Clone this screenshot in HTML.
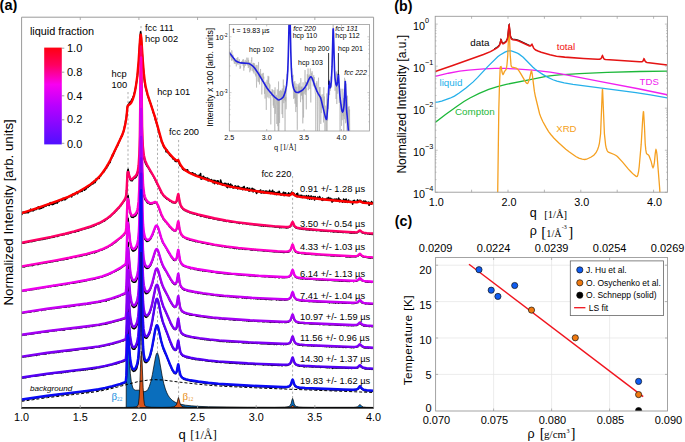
<!DOCTYPE html>
<html><head><meta charset="utf-8"><style>
html,body{margin:0;padding:0;background:#fff;width:685px;height:442px;overflow:hidden}
svg{display:block}
text{font-family:"Liberation Sans",sans-serif}
</style></head><body>
<svg width="685" height="442" viewBox="0 0 685 442">
<text x="-0.4" y="10.4" font-size="14.5" font-weight="bold">(a)</text>
<g id="pa">
<line x1="128.0" y1="92" x2="128.0" y2="406" stroke="#777" stroke-width="0.6" stroke-dasharray="2.2,2.2"/>
<line x1="141.0" y1="26" x2="141.0" y2="406" stroke="#777" stroke-width="0.6" stroke-dasharray="2.2,2.2"/>
<line x1="157.5" y1="100" x2="157.5" y2="406" stroke="#777" stroke-width="0.6" stroke-dasharray="2.2,2.2"/>
<line x1="178.6" y1="140" x2="178.6" y2="406" stroke="#777" stroke-width="0.6" stroke-dasharray="2.2,2.2"/>
<line x1="292.6" y1="176" x2="292.6" y2="406" stroke="#777" stroke-width="0.6" stroke-dasharray="2.2,2.2"/>
<path d="M126.2 407.5L126.35 333.86L127.6 230.83L128.6 318.83L129.1 346.52L129.6 361.53L130.35 373.7L131.35 382.02L132.6 387.11L133.35 388.7L134.35 389.81L135.6 390.25L139.6 390.13L143.6 391.46L144.85 391.61L146.35 391.09L147.85 389.45L149.35 386.36L150.85 381.51L152.35 374.68L155.6 356.66L156.35 354.03L157.1 352.94L157.35 352.98L157.85 353.63L158.85 357.04L162.1 375.58L163.85 383.8L165.35 389L166.85 392.85L168.1 395.29L169.35 397.2L170.85 398.98L172.35 400.35L174.1 401.58L176.1 402.64L180.85 404.26L185.6 405.19L191.35 405.86L198.85 406.37L208.6 406.74L247.35 407.24L274.6 407.3L284.6 407.14L288.1 406.68L289.35 406.13L290.1 405.46L291.1 403.52L292.1 399.54L292.6 398.38L293.1 399.54L294.1 403.52L294.85 405.13L295.6 405.96L296.35 406.42L298.85 407.02L303.1 407.26L311.85 407.37L353.6 407.3L356.1 407.1L357.6 406.68L358.6 405.94L359.6 404.67L360.1 404.46L361.85 406.35L363.35 407L366.35 407.31L373.35 407.42L373.5 407.5 Z" fill="#0a6ebd" stroke="#000" stroke-width="0.7"/>
<path d="M21.6 407.5L21.6 407.5L123.6 407.42L132.85 407.18L135.35 406.9L136.85 406.5L137.85 405.62L138.35 404.2L139.1 398.14L139.6 389.49L140.85 357.31L141.35 351.54L141.6 352.3L141.85 355.46L143.1 387.24L143.85 399.92L144.35 403.73L144.85 405.42L145.6 406.31L146.85 406.77L151.35 407.24L161.35 407.38L170.1 407.24L173.85 406.75L175.35 406.02L176.35 404.8L177.1 402.85L178.1 398.35L178.35 397.61L178.6 397.54L180.1 403.51L181.1 405.48L181.85 406.18L183.1 406.75L187.1 407.26L206.35 407.47L285.35 407.44L288.35 407.33L290.1 407.07L291.1 406.64L292.6 405.5L294.85 407L296.35 407.28L298.85 407.41L373.35 407.5L373.5 407.5 Z" fill="#d9541a" stroke="#000" stroke-width="0.7"/>
<path d="M21.6 401.36L47.6 397.61L87.6 392.92L98.6 391.37L109.6 389.07L137.6 381.72L147.6 380.15L154.6 379.63L162.6 380L179.6 382.13L199.6 384.36L212.6 385.56L223.6 386.31L262.6 388.18L372.6 392.47" fill="none" stroke="#000" stroke-width="1" stroke-dasharray="3,2"/>
<path d="M21.6 214.87L23.1 211.99L24.1 213.04L25.1 211.96L25.6 212.73L26.1 212.86L26.6 212.15L27.1 212.31L27.6 211.71L28.1 212.83L28.6 211.36L29.1 210.82L29.6 211.72L30.1 211.09L30.6 209.17L31.6 210.71L32.1 210.12L32.6 210.24L33.1 210.9L33.6 210.01L34.1 209.61L34.6 209.92L35.1 209.27L36.1 209.48L36.6 207.92L37.1 208.15L37.6 207.34L38.1 208.82L38.6 206.93L39.1 208.25L39.6 208.84L40.1 207.93L40.6 208.39L41.1 207.15L41.6 208.21L43.1 206.21L43.6 207.33L44.1 205.98L44.6 206.3L45.1 205.24L46.1 206.1L46.6 205.28L47.1 205.15L47.6 204.64L48.6 204.9L49.1 205.49L49.6 203.19L50.1 203.87L50.6 202.7L51.1 204.53L51.6 203.12L52.1 203.56L52.6 204.59L53.1 203.64L53.6 204.06L54.1 203.65L54.6 202.53L55.1 203.37L55.6 202.1L56.1 202.4L56.6 201.37L57.1 203.22L57.6 201.23L58.1 200.57L58.6 201.7L60.1 200.36L61.1 199.76L61.6 200.57L62.1 199.78L62.6 200.06L63.1 198.22L64.1 199.58L65.1 199.65L65.6 198.39L66.1 197.94L66.6 198.68L67.1 197.84L67.6 197.75L68.1 197.08L68.6 197.21L69.1 196.6L70.1 196.13L70.6 196.43L71.1 196.21L71.6 196.86L72.6 194.46L73.1 194.13L73.6 194.94L74.1 194.66L74.6 194.67L75.1 194.1L75.6 193.87L76.6 192.15L77.1 192.45L77.6 193.66L78.6 191.73L80.6 191.61L81.1 190.26L81.6 190.61L82.1 191.41L82.6 189.46L83.1 189.73L83.6 189.35L84.1 189.46L84.6 190.21L85.1 188.97L85.6 188.58L86.1 188.94L86.6 187.58L87.1 186.79L87.6 187.49L88.1 187.28L88.6 186.23L89.1 186.23L89.6 185.96L90.1 185.31L90.6 185.25L91.1 184.33L91.6 184L92.1 182.61L92.6 184.04L93.1 183.83L94.1 181.2L94.6 182.8L95.1 182.38L95.6 181.43L96.1 179.04L96.6 180.04L97.1 178.65L97.6 178.58L98.6 177.68L99.1 178.36L99.6 176.24L100.1 176.35L100.6 175.96L102.1 173.16L102.6 172.98L103.1 172.01L104.1 171.71L105.6 168.4L106.1 168.55L106.6 168.16L107.1 165.74L107.6 164.96L108.1 165.63L108.6 163.86L109.1 163.53L109.6 162.47L110.1 162.53L110.6 159.59L111.6 158.16L112.6 154.44L113.1 155.84L113.6 153.44L114.1 153.13L114.6 150.97L115.1 150.72L115.6 149.07L116.1 148.57L116.6 146.89L117.1 146.6L118.1 144.68L118.6 142.78L119.6 140.9L120.6 138.2L121.1 137.78L121.6 135.74L122.1 136.18L122.6 133.53L123.1 133.34L124.1 129.28L124.6 126.43L125.1 124.75L125.6 120.79L126.1 119.54L127.6 105.52L128.1 105.21L128.6 103.98L129.1 104.14L129.6 102.32L130.1 102.03L130.6 102.26L132.1 98.73L132.6 98.92L133.1 96.83L133.6 96.11L135.6 88.01L137.1 78.72L138.6 64.17L140.1 36.59L140.6 31.72L141.1 34.77L142.6 59.89L143.6 72.37L144.6 82.29L145.6 87.93L146.1 88.71L146.6 91.54L147.6 95.15L149.6 101.18L151.1 104.8L152.1 108.48L152.6 109.5L153.1 112.42L154.1 114.14L155.6 120.44L156.1 121.45L156.6 123.64L157.1 124.49L158.1 129.15L159.1 132.09L160.1 137L161.1 139.17L161.6 142.41L162.1 141.54L163.6 146.66L164.6 148.3L165.1 148.43L165.6 149.26L166.1 151.74L166.6 149.55L167.1 151.71L167.6 152.75L168.1 152.25L168.6 152.69L169.6 154.98L171.1 156.43L172.1 156.86L172.6 158.27L173.1 159.02L173.6 158.68L174.1 159.46L174.6 158.72L175.1 161.2L175.6 160.89L176.1 161.64L176.6 161.09L177.1 161L177.6 161.31L178.1 160.77L178.6 161.8L179.1 162.06L179.6 164.6L180.1 165.59L180.6 165.31L181.6 166.82L182.1 167.06L182.6 169.08L183.1 169.07L183.6 169.87L184.1 169.43L184.6 170.04L185.1 169.48L185.6 169.74L186.1 170.81L187.1 169.97L187.6 169.88L188.1 171.88L188.6 172.28L189.1 172.26L190.6 173.27L191.1 173.06L191.6 173.98L192.1 173.07L192.6 172.77L193.1 174.38L193.6 173.72L194.1 174.49L194.6 174.84L195.1 173.92L196.1 175.54L196.6 175.26L197.6 175.98L198.1 175.68L198.6 176.16L199.1 175.25L199.6 176.64L200.1 174.71L200.6 173.59L201.1 179.25L201.6 177.38L202.1 178.79L203.1 176.47L203.6 176.23L204.1 177.92L204.6 178.63L205.1 177.96L205.6 177.87L206.1 179.5L206.6 179.22L207.1 178L207.6 177.96L208.1 180.9L208.6 179.37L209.1 179.05L210.6 180.44L211.1 180.25L211.6 179.57L212.1 180.74L212.6 181.36L213.1 182.82L213.6 180.49L214.1 180.28L214.6 183.7L215.1 180.52L215.6 181.56L216.6 182.47L217.1 180.84L217.6 183.83L218.1 180.87L218.6 182.73L219.6 183.21L220.1 183.09L220.6 179.99L221.1 181.62L221.6 184.35L222.1 183.29L222.6 185.12L223.1 184.99L224.1 183.46L225.1 183.35L225.6 183.61L226.1 183.52L226.6 186.92L227.1 186.83L227.6 187.54L228.1 183.55L228.6 185.26L229.1 184.8L229.6 185.45L230.1 187.39L230.6 184.04L231.1 185.36L231.6 185.97L232.1 185.36L233.1 188.07L234.1 187.08L234.6 187.53L235.1 185.76L235.6 187.54L236.1 186.43L236.6 187.37L237.1 187.32L237.6 188.85L238.1 185.94L238.6 187.6L239.1 187.78L239.6 187.15L240.1 188.6L240.6 188.62L241.1 188.15L241.6 188.93L242.1 187.47L242.6 189.62L243.1 187.48L243.6 187.25L244.1 186.49L244.6 189.28L245.1 188.5L245.6 189.59L246.1 188.89L246.6 189.16L247.1 187.82L247.6 187.73L248.1 189.76L248.6 189.79L249.1 191.15L249.6 188.22L250.1 190.53L250.6 190.21L251.1 190.68L252.1 188.22L252.6 189.24L253.1 191.97L253.6 189.05L254.1 190.76L254.6 189.65L255.1 190.47L255.6 190.58L256.1 192.41L256.6 193.45L257.6 191.13L258.1 190.97L258.6 191.62L259.1 190.87L259.6 191.83L260.6 190.01L261.1 193.02L261.6 191.47L262.1 192.87L262.6 191.27L263.1 190.75L263.6 192.67L264.1 193.1L265.1 191.13L265.6 192.62L266.1 190.96L266.6 191.84L267.1 191.37L267.6 193.28L268.1 193.23L268.6 191.93L269.1 192.41L269.6 190.23L270.6 193.51L271.1 192.93L271.6 191.53L272.1 191.78L272.6 190.26L273.1 193.47L274.1 191.8L275.1 194.54L275.6 192.7L276.1 192.58L276.6 194.59L277.6 192.23L278.1 194.01L278.6 194.01L279.1 191.21L280.1 194.04L280.6 193.86L281.1 195.12L282.1 193.84L282.6 193.91L283.6 192.28L284.1 195.66L284.6 193.15L285.1 195.17L285.6 192.84L286.1 194.58L287.1 194.81L287.6 194.22L288.1 195.41L288.6 192.8L289.1 195.72L289.6 195.6L290.1 193.51L290.6 194.04L291.1 193.7L291.6 192.13L292.1 193.87L293.1 193.13L293.6 193L294.1 193.54L294.6 195.3L295.6 195.18L296.1 196.28L296.6 193.72L297.1 197L297.6 193.35L298.1 195.76L298.6 196.34L299.6 196.66L300.1 195.17L300.6 197.2L301.6 195.28L302.1 197.39L302.6 197.43L303.1 195.96L303.6 196.72L304.1 196.65L304.6 196.05L305.1 196.84L305.6 196.55L306.1 196.95L306.6 195.64L307.1 197.95L307.6 198.55L308.1 197.62L308.6 195.66L309.6 199.3L310.1 196.78L310.6 196.64L311.1 195.87L311.6 199.08L312.1 198.05L312.6 198.46L313.1 196.58L313.6 197.87L314.1 197.63L314.6 199.97L315.1 196.44L315.6 198.34L316.1 198.21L317.1 198.9L317.6 197.18L319.1 198.47L319.6 196.58L320.6 198.51L322.1 200.37L322.6 198.11L323.1 199.87L323.6 199.83L324.6 199.24L325.1 199.62L325.6 199.29L326.1 199.61L326.6 199.62L327.1 198.16L327.6 198.96L328.6 197.49L329.1 199.23L329.6 198.65L330.1 199.84L330.6 198.23L331.1 198.71L332.1 202.09L332.6 199.21L333.1 199.78L333.6 200.92L334.1 199.33L334.6 199.43L335.1 199.14L335.6 199.81L336.1 200.99L336.6 198.97L337.1 200.06L337.6 200.53L338.1 199.95L338.6 198.12L339.1 199.2L339.6 201.81L340.1 199.74L341.1 201.01L341.6 200.59L342.6 202.21L343.1 201.57L343.6 199.06L344.1 199.9L344.6 201.89L345.1 199.77L345.6 202.15L346.1 199.14L347.1 201.91L347.6 202.29L348.1 201.54L348.6 199.98L349.1 201.71L350.1 202.31L350.6 201.33L351.1 202.12L352.1 201.23L352.6 204.17L353.1 201.26L353.6 200.68L354.1 201.28L354.6 200.43L355.1 202.31L355.6 202.26L356.1 201.86L356.6 202.12L357.6 199.91L358.1 201.77L358.6 200.98L359.1 200.92L359.6 200.3L360.1 200.79L360.6 200.33L361.1 201.91L362.1 201.47L362.6 202.81L363.1 202.79L363.6 201.11L364.1 201.72L364.6 201.35L365.1 202.22L365.6 201.19L366.1 202.73L366.6 202.31L367.1 202.37L367.6 203.12L368.1 202.91L368.6 202.17L369.1 205.26L369.6 202.87L370.1 202.51L370.6 203.07L371.1 204.25L371.6 201.54L372.1 202.79L372.6 203.03L373.1 202.06" fill="none" stroke="#000" stroke-width="1.6" stroke-linejoin="round"/>
<path d="M21.6 243.09L22.6 243.26L23.1 242.86L23.6 243.23L24.1 242.88L25.6 242.38L26.6 242.54L27.1 242.09L27.6 242.29L28.6 242.31L29.1 241.62L29.6 241.43L30.1 241.47L30.6 241.21L31.1 241.69L31.6 241.48L32.1 241.59L33.6 241.07L34.1 240.68L34.6 241.03L35.6 240.47L36.6 240.49L37.1 240.08L37.6 240.15L38.1 239.75L39.1 239.9L40.1 239.5L40.6 239.67L41.6 239.49L42.6 239.57L43.1 239.16L44.6 238.66L45.1 238.88L45.6 238.43L46.1 238.61L46.6 238.28L47.6 238.46L48.1 238L49.6 238.02L50.1 237.59L51.1 237.35L53.6 237.09L54.1 236.49L54.6 236.95L55.6 236.2L56.1 236.06L56.6 236.11L57.1 236.52L58.1 235.71L58.6 235.87L59.1 235.57L60.6 235.31L62.1 235.29L62.6 234.76L63.6 234.45L64.1 234.78L65.6 233.79L66.1 234.01L66.6 233.76L68.6 233.6L69.6 232.72L70.1 233.24L70.6 232.32L71.1 232.62L71.6 232.6L72.6 231.97L73.1 231.97L73.6 231.69L74.1 232.03L75.1 231.69L75.6 231.91L76.6 231.2L77.6 231.04L78.1 231.23L80.1 230.04L81.1 230.04L81.6 229.63L82.6 229.52L83.1 229.26L83.6 228.68L84.1 228.99L84.6 228.92L85.1 228.58L85.6 228.68L86.1 228.52L87.6 227.84L88.1 227.23L88.6 227.86L89.1 227.29L90.1 227.39L90.6 226.72L91.1 226.99L92.6 226.17L93.1 226.4L93.6 225.68L94.1 225.83L95.1 224.99L95.6 225.29L97.1 224L98.6 223.65L99.1 223.78L99.6 223.01L100.1 223.06L100.6 222.68L101.1 222.62L103.6 221.13L104.1 221.31L104.6 220.62L105.1 220.48L105.6 219.73L106.1 219.66L106.6 218.9L107.1 218.99L107.6 218.25L108.1 218.31L109.1 217.14L109.6 217.08L110.6 216.26L112.6 214.21L114.6 212.59L115.1 211.61L115.6 211.41L116.1 210.48L116.6 210.57L117.1 209.4L117.6 209.33L118.1 208.31L118.6 207.76L119.1 207.98L119.6 206.7L120.1 206.51L120.6 205.94L123.6 201.57L124.1 201.37L125.6 198.33L126.1 196.7L126.6 193.24L127.6 171.06L128.1 169.24L129.1 175.09L130.1 179.63L130.6 180.4L132.1 180.82L133.6 178.63L134.1 178.43L134.6 177.91L135.1 177.9L135.6 177.24L136.1 177.26L137.6 174.09L138.1 172.33L138.6 169.1L139.1 164.32L139.6 154.56L140.1 133.21L141.1 48.65L141.6 103.18L142.1 136.2L142.6 148.17L143.1 154.18L144.1 159.14L145.6 163.53L146.6 165.43L148.6 168.22L150.1 171.22L151.6 173.19L153.6 176.6L157.1 184L158.1 185.6L160.1 190.18L160.6 190.8L161.1 192.84L162.1 193.34L163.1 195.53L163.6 195.65L164.1 196.46L165.1 197.02L165.6 198L166.6 198.49L167.1 199.24L168.1 199.33L170.1 201.11L170.6 201.03L172.1 202.53L173.6 202.82L174.1 202.75L174.6 203.07L175.1 203.07L176.1 202.4L176.6 201.64L178.1 194.73L178.6 195.32L179.6 201.81L180.6 205.62L181.1 206.68L183.1 209.39L183.6 209.49L184.6 210.47L185.1 210.35L185.6 210.55L186.6 211.4L187.6 211.51L188.1 211.95L188.6 211.97L189.6 212.72L190.1 212.21L192.1 213.47L193.1 213.69L193.6 213.48L194.1 213.97L195.1 214.31L196.1 213.99L196.6 214.68L197.1 214.89L198.6 215.11L199.1 215.4L200.1 215.37L201.1 216.3L201.6 215.74L202.1 215.75L202.6 216.24L203.1 216.14L204.1 216.78L204.6 216.51L205.1 217.07L205.6 216.87L206.1 216.93L206.6 217.38L207.1 216.83L207.6 216.72L208.1 217.5L208.6 217.89L209.1 217.67L210.6 218.21L211.1 218.01L211.6 218.1L213.1 218.75L213.6 218.41L214.1 218.99L214.6 218.64L216.1 218.93L217.1 219.58L218.6 219.64L219.1 219.94L220.6 219.86L221.1 220.22L221.6 220.06L222.1 220.46L223.1 220.24L223.6 220.88L224.1 220.57L225.1 221.13L225.6 220.94L226.6 221.45L227.1 221.09L228.1 221.2L229.6 221.82L230.1 221.62L230.6 221.92L231.1 221.8L231.6 222.23L232.1 222.05L233.1 222.32L234.1 222.09L234.6 222.38L235.1 221.97L236.6 222.67L237.1 222.3L237.6 222.72L238.1 222.71L239.6 223.43L240.1 222.99L240.6 223.11L241.1 222.87L241.6 222.9L242.6 223.7L243.1 223.31L243.6 223.19L244.1 223.51L245.6 223.55L246.6 224.01L247.1 223.77L247.6 223.99L248.1 223.94L249.1 224.39L250.1 224.21L250.6 224.52L251.1 224.12L251.6 224.38L252.6 224.38L253.1 224.67L254.1 224.47L254.6 225.01L255.6 224.76L256.6 225.11L257.6 224.84L258.1 225.47L258.6 225.1L259.1 225.57L260.1 225.71L260.6 225.37L261.6 225.96L262.1 225.81L262.6 225.26L263.6 226.08L264.1 225.72L264.6 225.82L265.1 225.43L265.6 226.15L266.1 225.79L266.6 226.02L267.1 225.9L268.1 226.43L268.6 225.93L269.6 226.55L271.1 226.42L271.6 226.21L272.1 226.56L272.6 226.41L273.1 226.68L274.1 226.15L274.6 226.87L278.6 226.81L279.1 226.98L279.6 227.73L280.1 227.15L280.6 227.51L281.6 227.59L282.6 227.34L283.6 227.58L284.6 227.43L285.6 227.74L286.1 227.27L286.6 227.96L287.6 227.31L288.1 227.62L288.6 227.45L289.1 226.9L289.6 227.11L290.6 226.44L291.1 225.14L292.6 222.38L293.1 222.8L294.1 226.14L295.1 227.04L295.6 227.24L296.1 227.98L296.6 228.19L297.1 228L297.6 228.56L298.6 228.29L299.6 228.75L300.1 228.47L300.6 228.51L301.1 229.1L302.6 229.08L303.1 229.51L303.6 229.29L304.6 229.27L305.1 229.53L305.6 229.42L306.1 229.7L307.1 229.48L308.1 229.84L308.6 229.65L309.6 230.12L310.1 229.54L310.6 229.4L311.1 229.83L311.6 229.58L312.1 230.02L312.6 229.89L313.1 230.41L313.6 229.76L314.1 230.02L315.1 230.13L315.6 229.92L316.1 230.59L316.6 230.21L317.1 230.6L317.6 229.99L318.1 230.3L318.6 230.23L319.1 230.58L319.6 230.26L320.6 230.87L321.6 231.03L322.1 230.56L323.1 230.97L323.6 230.67L324.1 231.07L324.6 230.78L325.1 230.77L325.6 231.23L326.1 230.67L327.1 231.25L327.6 231.19L328.1 231.41L328.6 230.85L329.1 231.16L329.6 230.98L330.1 231.1L330.6 231.57L331.6 231.27L333.6 231.89L334.6 231.61L335.1 231.82L336.1 231.63L337.6 231.95L338.1 232.28L338.6 231.91L339.1 232.04L340.1 231.86L340.6 232.22L341.1 231.89L343.1 232.59L344.6 232L345.1 232.45L346.1 232.08L346.6 232.54L347.1 232.2L348.6 232.42L349.1 232.3L350.1 233L350.6 232.85L351.1 233.1L351.6 232.69L352.6 232.95L353.1 232.69L354.1 233.1L354.6 232.75L355.6 232.75L356.1 232.97L356.6 232.58L357.1 232.81L358.1 231.81L358.6 231.55L359.1 231.59L359.6 231.02L360.1 230.97L360.6 231.48L361.1 231.57L362.1 232.86L363.1 232.84L364.1 233.42L364.6 233.28L365.1 233.84L366.6 233.26L367.6 233.94L368.6 233.53L369.1 234.08L369.6 233.63L370.1 234.28L370.6 233.98L371.6 233.86L372.1 234.41L373.1 233.96" fill="none" stroke="#000" stroke-width="1.6" stroke-linejoin="round"/>
<path d="M21.6 266.9L22.1 266.59L22.6 266.55L24.1 266.91L24.6 266.21L25.1 266.19L25.6 266.45L26.1 266.09L26.6 266.14L27.6 265.56L28.1 265.58L28.6 265.88L29.6 265.26L30.1 265.58L30.6 265.49L31.1 264.71L31.6 265.47L32.1 265.29L32.6 265.57L34.1 264.68L34.6 264.78L35.1 264.32L36.1 264.34L36.6 264.05L37.1 264.43L37.6 264.17L38.1 264.47L40.1 263.27L40.6 263.67L41.6 263.26L42.1 263.23L42.6 263.53L43.1 263.02L43.6 263.11L44.1 262.57L44.6 262.86L45.1 262.59L45.6 262.87L46.1 262.62L46.6 262.89L47.1 262.41L47.6 262.51L48.1 262.15L49.1 261.86L49.6 262.28L50.1 261.85L50.6 261.91L51.1 261.38L52.6 261.67L53.1 261.14L53.6 261.49L54.1 260.85L54.6 261.28L55.6 260.96L56.1 260.61L56.6 260.91L57.1 260.88L58.6 260.43L59.1 260.07L60.1 260.28L61.1 259.77L63.1 259.71L63.6 259.44L64.1 259.73L65.1 258.93L65.6 259.11L66.6 258.88L67.1 259.2L67.6 258.33L68.1 258.68L69.6 258L70.1 257.53L70.6 258.26L71.1 257.65L71.6 258L72.1 257.56L74.1 256.98L74.6 256.93L75.1 257.34L75.6 256.82L76.1 256.92L77.6 256.24L79.1 256.43L80.1 256.23L81.1 255.33L81.6 255.96L82.1 255.36L82.6 255.65L83.6 255.04L84.6 254.97L86.1 254.29L86.6 254.85L87.1 254.76L87.6 254.21L88.6 253.66L89.1 253.92L89.6 253.88L90.1 253.35L90.6 253.54L91.6 253.03L92.1 253.1L93.1 252.35L94.1 252.45L94.6 252.89L95.6 251.62L96.1 252.21L96.6 251.63L97.6 251.54L98.6 251.18L99.1 250.68L100.1 250.29L101.1 250.07L101.6 250.2L102.6 249.66L103.1 249.11L104.1 249.03L105.1 248.34L106.6 247.85L107.1 247.33L108.1 246.94L108.6 246.25L109.6 246.05L111.1 245.06L111.6 245.04L112.1 244.74L113.6 243.37L114.6 242.77L115.1 242.14L115.6 242.41L116.1 241.57L120.1 238.21L120.6 238.24L121.6 236.97L122.1 236.74L123.6 235.17L124.1 234.96L124.6 233.86L125.6 232.76L126.1 231.46L126.6 226.33L127.6 197.31L128.1 195.58L129.6 209.4L130.1 212.6L131.1 216.42L131.6 217.07L132.1 216.86L132.6 217.32L133.1 217.41L134.1 216.39L134.6 216.44L135.1 216.03L135.6 215.96L137.1 213.04L138.1 209.57L139.1 200.13L139.6 188.38L140.1 162.93L141.1 59.66L141.6 127.67L142.1 167.89L142.6 183.62L143.1 190.62L143.6 194.18L144.1 196.74L145.1 199.64L145.6 200.04L147.6 203.05L148.6 203.03L149.6 203.93L150.6 204.2L151.6 203.73L152.1 203.86L152.6 203.75L153.1 203.21L154.1 203.21L155.1 202.46L155.6 202.53L157.1 204L159.1 208.62L161.6 215.91L162.1 216.39L163.6 219.58L164.6 220.28L165.1 221.56L165.6 221.55L166.1 221.95L167.6 224.3L168.1 224.49L168.6 225.03L169.6 226.91L171.1 228.14L172.1 229.67L173.1 229.67L173.6 230.69L174.6 230.78L175.1 231.03L175.6 230.96L176.1 230.5L177.1 227.71L178.1 221.93L178.6 222.62L179.6 229.43L180.6 233.6L181.6 235.27L182.1 235.62L183.1 237.1L183.6 237.1L186.1 238.66L187.1 239.09L187.6 238.9L188.1 239.52L189.1 239.54L189.6 240.05L190.1 239.64L190.6 240.21L191.1 239.96L192.1 240.7L192.6 240.6L193.6 240.81L194.6 241.25L195.1 241.02L195.6 241.63L196.1 241.1L196.6 241.43L198.1 241.92L198.6 241.74L201.6 242.76L202.6 242.83L203.1 243.29L204.1 243.13L205.1 243.27L205.6 242.83L206.1 243.76L206.6 243.49L207.6 244.2L208.1 243.6L208.6 244.23L210.1 243.85L210.6 244.46L211.6 244.22L212.1 244.83L212.6 244.54L213.1 245.03L214.1 244.97L215.1 245.37L215.6 245.18L216.1 245.49L217.1 245.52L217.6 245.35L218.1 245.81L219.6 245.77L220.1 246.18L220.6 246.11L221.6 246.55L222.1 246.23L222.6 246.63L223.1 246.32L224.1 246.27L224.6 246.91L225.1 246.44L226.1 247.24L226.6 246.69L227.1 247.19L227.6 246.89L228.6 247.41L229.1 247.45L229.6 247.06L230.1 247.75L231.6 247.3L232.1 247.59L232.6 247.23L233.1 247.94L233.6 248.11L234.1 247.91L234.6 248.52L235.1 247.79L235.6 248.25L236.1 248.22L236.6 248.62L237.6 248.05L238.1 248.57L238.6 248.14L239.1 248.84L240.1 248.43L240.6 248.81L241.1 248.64L242.1 248.7L242.6 249.08L243.1 248.78L244.1 248.81L244.6 248.95L245.1 249.4L245.6 249.32L246.1 248.89L247.1 249.45L247.6 249.07L249.1 249.53L250.1 249.51L251.1 249.92L251.6 249.39L252.1 249.96L252.6 250.08L253.6 249.58L254.6 249.95L255.1 249.48L255.6 250.14L256.6 249.73L257.1 250.38L257.6 250.11L258.1 250.49L259.1 250.28L260.6 250.35L261.1 250.69L261.6 250.37L262.1 250.41L263.6 250.99L264.1 250.68L265.1 250.96L265.6 250.58L266.1 250.86L267.1 250.68L267.6 251.2L268.1 251.07L270.1 251.35L270.6 251.19L271.1 251.54L271.6 251.25L272.1 251.57L273.1 251.63L273.6 251.41L275.1 251.86L276.1 251.38L276.6 251.83L277.6 251.62L278.1 252.03L279.6 251.91L280.6 252.1L281.1 251.98L281.6 252.18L282.1 251.91L282.6 252.01L283.1 252.38L283.6 252.12L284.1 252.55L285.1 251.9L286.1 252.22L287.1 251.88L287.6 252.27L288.6 252L289.6 251.36L291.1 249.3L292.1 245.41L292.6 245L294.1 249.45L295.6 252.09L296.1 252.33L296.6 252.3L298.6 253.3L299.1 253.07L300.1 253.31L301.1 253.22L302.1 253.7L302.6 253.37L303.1 253.38L304.1 253.78L304.6 253.47L305.1 254.2L305.6 253.64L306.1 254.11L306.6 253.67L308.1 254.27L308.6 254.04L309.6 254.28L310.6 254.16L311.6 254.46L312.1 254.28L312.6 254.47L313.1 254.22L313.6 254.4L314.6 254.28L315.1 254.69L315.6 254.6L316.1 254.88L317.1 254.43L317.6 254.38L318.1 254.77L318.6 254.82L320.1 254.53L320.6 254.95L322.1 254.71L323.6 255.05L324.6 254.98L325.1 255.39L325.6 255L326.6 255.38L327.6 255.37L328.1 255.61L329.1 255.28L330.1 255.58L330.6 255.45L331.1 255.9L331.6 255.3L332.6 255.84L333.6 255.8L334.1 256.05L334.6 255.74L336.1 255.75L337.1 256.05L339.1 255.92L339.6 256.18L340.6 256.15L341.1 255.77L343.6 256.3L345.6 256.29L346.1 256.95L346.6 256.45L348.1 256.96L349.1 256.24L349.6 256.98L350.1 256.43L350.6 256.93L352.6 256.54L353.1 256.77L354.6 256.61L355.1 256.87L355.6 256.35L356.1 256.31L356.6 256.61L357.1 256.21L358.1 256.05L359.1 254.75L360.1 254.25L360.6 254.51L361.1 255.42L362.6 256.73L363.1 256.41L363.6 256.99L364.6 256.78L365.6 257.25L366.1 257.08L366.6 257.48L367.1 257.5L367.6 257.11L368.1 257.85L368.6 257.46L369.6 257.98L370.1 257.8L370.6 258.08L371.6 257.5L372.1 257.92L373.1 257.66" fill="none" stroke="#000" stroke-width="1.6" stroke-linejoin="round"/>
<path d="M21.6 291.23L22.6 291.3L23.6 290.66L25.1 290.49L26.1 290.86L26.6 290.11L27.1 289.95L27.6 290.2L29.1 289.91L29.6 290.14L30.6 289.65L32.1 289.61L32.6 289.21L33.1 289.48L33.6 288.78L34.1 289.35L34.6 288.83L36.6 288.87L37.6 288.4L38.1 288.67L38.6 288.21L39.1 288.38L39.6 288.24L40.1 288.43L40.6 288.04L42.6 287.68L43.1 287.3L43.6 287.71L44.1 287.39L45.6 287.38L46.1 286.84L47.6 287.04L48.1 286.56L48.6 286.91L49.6 286.37L50.1 286.39L50.6 286.74L51.1 286.34L51.6 286.53L52.1 286.08L52.6 286.28L53.1 286.1L53.6 285.49L54.6 286.23L55.1 285.86L55.6 286.14L57.1 285.28L57.6 285.78L58.6 285.09L59.1 285.29L59.6 285.04L61.6 285.18L62.1 284.5L62.6 284.66L63.1 284.08L63.6 284.57L64.6 284.37L65.1 284.62L65.6 284.26L66.1 284.37L66.6 283.75L67.6 283.93L68.1 283.34L69.6 283.81L70.1 283.27L71.1 283.28L71.6 283.02L72.1 283.13L72.6 282.69L73.6 283.27L74.6 282.66L75.6 282.78L76.6 282.21L77.1 282.39L77.6 281.95L78.6 281.75L79.1 281.66L79.6 282.08L80.6 281.23L81.1 281.71L81.6 281.21L82.1 281.19L82.6 281.52L84.1 280.95L84.6 281.17L85.6 280.49L86.6 280.73L87.6 280.15L89.1 279.99L89.6 279.64L90.1 279.66L91.6 279.17L92.6 279.57L93.1 279L94.1 279.13L94.6 278.6L95.1 278.96L95.6 278.5L96.1 278.53L97.1 278.05L97.6 278.18L98.6 277.77L99.6 277.65L100.6 277.04L101.1 277.18L102.1 276.98L103.1 276.55L103.6 276.08L104.1 276L104.6 276.27L105.6 275.33L106.6 275.46L107.6 274.52L108.6 274.62L109.1 273.97L109.6 274.23L110.1 273.8L111.6 273.19L113.1 271.91L113.6 272.07L114.1 271.6L114.6 271.81L115.6 270.67L116.1 271.01L116.6 270.27L117.6 269.82L118.1 269.91L119.6 268.78L120.1 268.77L121.1 267.63L121.6 267.67L123.6 266.05L125.1 265.25L126.1 263.12L126.6 257.16L127.6 219.71L128.1 218.34L130.1 242.61L131.1 247.61L132.1 250.21L133.1 251.19L133.6 250.83L134.1 250.89L134.6 250.22L135.1 250.31L136.6 248.22L137.6 245.51L138.6 240.22L139.1 233.62L139.6 221.95L140.1 195.65L141.1 87.59L141.6 161.56L142.1 205.7L142.6 222.71L143.1 230.93L144.1 237.07L144.6 238.65L146.6 241.22L147.1 241.48L147.6 240.98L148.6 240.93L150.6 238.98L152.1 235.7L152.6 235.09L155.1 227.64L155.6 227.24L156.1 226.27L157.1 225.97L157.6 226.66L158.1 227.89L159.1 230.96L159.6 233.2L162.6 242.28L167.1 249.71L167.6 251.04L168.1 251.59L169.1 253.55L169.6 253.74L170.1 254.53L170.6 255.97L171.1 256.79L171.6 257.15L172.6 258.79L173.1 258.87L173.6 260.13L174.1 259.67L174.6 260.5L175.1 260.46L176.1 259.66L176.6 258.53L177.1 256.36L178.1 250.91L178.6 251.01L179.6 258.5L180.6 262.51L181.1 263.14L181.6 264.35L182.6 265.15L183.1 265.9L184.1 265.88L184.6 266.49L186.1 266.81L187.1 267.42L188.1 267.47L189.6 268.1L190.1 267.89L190.6 268.71L191.1 268.3L192.6 268.53L194.1 269L194.6 269.37L196.6 269.34L197.6 269.97L198.1 269.87L198.6 270.23L199.1 269.77L199.6 269.87L200.1 270.37L200.6 270.4L201.6 269.94L202.1 270L202.6 271.04L203.6 270.53L204.1 270.81L204.6 270.5L205.1 271.24L206.1 270.99L207.6 271.18L208.1 271.5L208.6 271.3L209.1 271.5L210.1 271.48L211.1 271.71L211.6 272.23L212.1 272.31L212.6 272.2L213.1 271.76L213.6 272.26L214.6 271.98L215.1 272.33L216.1 272.42L216.6 272.82L217.1 272.73L218.1 273.01L218.6 272.61L219.6 273.17L221.1 273.25L222.1 273.07L223.1 273.52L223.6 273.14L224.1 273.75L224.6 273.36L225.6 273.81L226.6 273.55L227.1 273.87L228.1 273.92L228.6 273.72L229.1 274.14L229.6 273.82L230.1 273.97L230.6 273.74L231.1 274.13L231.6 273.98L232.1 274.17L232.6 273.94L233.1 274.24L234.1 274.08L234.6 274.34L236.1 274.36L236.6 274.69L237.6 274.8L238.1 274.5L238.6 274.88L239.1 274.64L239.6 274.93L240.6 274.62L241.6 275.23L242.1 274.88L243.1 275.02L243.6 274.81L244.1 275.34L245.1 274.98L246.6 275.53L247.1 275.3L247.6 275.51L249.1 275.62L249.6 275.42L250.1 276.02L251.1 275.62L252.1 275.63L253.1 276.03L254.1 275.46L255.1 276.32L255.6 276.08L257.6 275.88L258.1 276.42L258.6 276.13L259.1 276.28L259.6 275.86L260.1 276.31L261.6 276.39L262.6 276.23L263.1 276.62L263.6 276.28L264.6 276.74L265.1 276.53L266.1 276.63L267.1 276.23L269.1 277.04L269.6 276.82L270.1 276.98L271.6 276.87L272.6 277.16L273.6 276.85L275.1 277.48L276.1 277.17L277.1 277.26L277.6 277L278.6 277.6L279.1 277.19L279.6 277.63L280.6 276.96L281.1 277.27L281.6 277.26L282.1 277.78L282.6 277.44L283.1 277.39L283.6 277.65L285.6 277.34L286.1 277.54L287.1 277.5L287.6 277.15L288.1 277.27L289.1 277.08L290.1 275.97L290.6 275.89L292.1 271.03L292.6 270.33L293.6 272.78L294.1 274.6L294.6 275.73L295.6 277.18L296.6 277.77L297.1 277.67L298.1 277.96L298.6 278.35L299.6 278.49L300.1 278.39L300.6 278.7L301.1 278.73L301.6 278.1L302.1 278.81L302.6 278.35L303.1 278.83L304.1 278.19L305.6 279.18L306.1 278.86L306.6 278.8L307.1 279.12L308.1 278.83L309.6 279.1L310.1 278.85L310.6 279.26L313.1 279.32L313.6 279.49L314.1 279.2L315.1 279.35L315.6 279.7L316.1 279.43L316.6 279.81L317.1 279.15L317.6 279.79L318.6 279.7L319.1 279.93L319.6 279.68L320.1 279.93L321.6 279.92L322.1 280.15L322.6 279.29L323.1 280.11L324.6 279.72L325.1 280.28L325.6 279.87L326.1 279.86L327.6 280.34L328.6 280.28L329.6 279.91L330.1 280.21L330.6 280.07L332.1 280.54L332.6 280.4L334.6 280.7L335.6 280.43L336.1 280.67L336.6 280.56L337.6 280.85L338.1 280.61L338.6 280.97L339.1 280.89L339.6 281.07L340.1 280.71L340.6 280.92L341.1 280.7L341.6 281.09L344.1 280.86L345.1 280.99L345.6 281.27L346.6 281.1L347.1 281.47L347.6 281.03L349.1 281.39L350.6 280.95L352.1 281.06L353.6 281.62L354.1 281.05L355.1 281.32L355.6 281.07L356.1 281.28L357.1 280.62L357.6 280.78L358.6 279.86L359.1 279.68L359.6 278.97L360.1 278.97L360.6 278.69L361.1 280.04L361.6 279.95L362.1 280.75L365.1 281.56L365.6 281.91L366.1 281.46L366.6 281.9L367.1 281.83L367.6 282.18L368.1 281.72L368.6 282.09L369.6 281.65L370.1 282.3L371.1 282.08L371.6 282.41L372.1 282.09L373.1 282.2" fill="none" stroke="#000" stroke-width="1.6" stroke-linejoin="round"/>
<path d="M21.6 313.18L23.1 313.05L23.6 312.65L24.6 312.74L25.6 312.16L26.6 312.53L27.6 311.95L28.6 311.64L29.1 312.09L30.1 311.76L30.6 311.91L32.6 311.02L33.1 311.27L33.6 311.2L34.1 311.56L34.6 310.92L35.6 311.27L37.1 310.39L38.1 310.7L39.1 309.93L39.6 310.18L40.1 310.02L41.6 310.55L42.1 309.99L43.6 309.82L44.1 309.52L45.6 309.66L46.6 309.28L48.1 309.21L50.1 308.68L50.6 308.8L51.1 308.55L51.6 308.63L52.6 308.27L53.1 308.49L54.1 308.33L54.6 308.45L55.1 308.21L56.1 308.31L56.6 307.96L57.6 308.01L59.1 307.4L59.6 307.76L60.1 307.68L60.6 307.32L61.6 307.43L62.1 306.73L62.6 307.28L63.6 306.94L65.1 307.16L65.6 306.77L66.1 307.08L66.6 306.6L67.6 306.23L68.6 306.76L69.6 306.71L70.1 305.92L70.6 306.43L71.1 306.4L72.1 305.81L72.6 305.82L73.1 306.18L74.1 305.75L74.6 305.85L75.1 305.41L75.6 305.56L76.1 305.09L77.1 305.25L77.6 305.09L78.1 305.49L78.6 305.13L79.1 305.1L79.6 305.33L80.1 304.8L82.1 304.71L83.1 304.07L83.6 304.5L84.1 304.26L84.6 304.46L85.1 304.13L85.6 304.54L86.1 303.93L87.1 303.97L87.6 304.21L88.1 304.01L88.6 303.5L90.1 303.74L90.6 303.41L91.1 303.63L91.6 302.96L92.1 303.28L92.6 302.85L93.1 303.08L93.6 303.05L94.6 302.64L95.6 302.8L97.1 302.34L98.1 302.39L98.6 301.69L99.1 302.13L100.1 301.6L100.6 302.03L101.1 301.46L102.1 301.52L102.6 300.9L103.6 301.14L104.1 300.67L104.6 300.69L105.1 300.43L106.1 301.23L106.6 300.04L107.1 300.1L108.1 299.65L108.6 300.04L109.6 299.64L110.6 298.85L111.6 298.88L112.1 298.44L113.1 298.14L114.1 298.5L114.6 297.57L115.1 297.92L116.1 297.33L116.6 297.37L117.1 297.16L117.6 296.39L118.1 296.91L119.1 296.29L119.6 295.72L120.1 296.04L120.6 295.34L121.6 295.31L124.6 294.25L125.1 293.73L125.6 293.55L126.1 292.36L126.6 286.01L127.6 244.62L128.1 242.62L129.6 265.71L130.6 275.28L131.1 277.83L132.1 281.15L133.6 282.32L134.6 282.27L135.1 281.7L135.6 281.99L137.1 278.85L138.1 274.88L138.6 270.87L139.1 264.14L139.6 251.7L140.1 224.15L141.1 111.27L141.6 187.02L142.1 232.46L142.6 250.33L143.1 258.57L143.6 262.41L144.6 266.35L145.1 267.16L145.6 267.31L146.1 268.18L146.6 268.13L147.1 268.47L147.6 267.97L148.1 268.1L148.6 267.94L149.6 266.6L150.1 266.23L150.6 265.37L153.1 258.86L155.1 251.77L156.1 250L157.1 249.7L158.6 252.55L161.1 261.63L163.1 266.79L163.6 267.4L164.1 268.67L164.6 268.74L165.1 270.21L165.6 270.55L167.1 273.12L168.1 275.42L169.1 276.74L170.6 279.76L171.6 280.98L172.6 282.91L173.1 282.84L174.1 284.32L174.6 283.88L175.1 284.44L175.6 284.4L176.6 282.57L177.1 280.64L178.1 274.42L178.6 275.13L179.6 282.31L180.1 284.62L181.1 287.2L182.1 288.19L182.6 289.14L183.1 289.38L183.6 289.31L184.1 289.94L184.6 290.2L185.1 289.94L185.6 289.93L187.1 290.88L187.6 290.52L188.1 290.99L189.1 291.39L190.6 291.24L191.1 291.68L192.1 291.77L192.6 292.21L193.1 292.02L194.6 292.48L195.1 292.13L195.6 292.7L196.1 292.5L197.1 292.49L198.1 293.32L198.6 292.87L200.1 293.34L201.1 293.25L201.6 293.48L202.1 293.15L202.6 293.65L203.6 293.92L204.1 293.74L205.1 294.16L205.6 294.12L206.1 294.44L207.6 294.13L208.1 294.45L208.6 294.32L209.1 294.55L210.1 294.53L211.6 295.06L213.1 295.08L213.6 295.4L214.1 295.12L214.6 295.3L215.6 295.16L216.1 295.58L216.6 295.34L217.1 295.65L217.6 295.46L218.1 295.75L219.1 295.64L220.1 296.3L220.6 296.19L221.1 295.56L221.6 296.02L222.1 296.14L222.6 295.94L223.1 296.36L223.6 295.88L225.1 296.55L225.6 296.08L226.1 296.33L226.6 296.15L227.1 296.52L227.6 296.6L228.1 296.34L229.1 296.51L229.6 296.79L230.6 296.46L231.1 297.03L231.6 296.65L232.6 296.83L233.1 296.71L233.6 297.3L234.6 296.81L235.1 297.3L235.6 296.9L236.6 297.6L237.1 296.97L238.1 297.66L239.6 297.32L241.1 297.27L242.6 297.96L243.6 297.21L244.1 297.82L244.6 298.07L245.1 297.82L245.6 298.01L246.1 297.79L246.6 298.32L247.6 297.38L248.1 298.02L249.6 298.06L250.6 298.39L251.1 298.2L251.6 298.39L252.1 298.08L253.6 298.57L254.1 298.02L255.6 298.73L256.1 298.36L256.6 298.73L257.1 298.42L257.6 299.02L258.6 298.24L259.1 298.78L260.1 298.55L260.6 299.05L261.1 298.62L262.1 298.9L263.1 298.87L263.6 298.66L265.1 299.38L265.6 298.95L266.1 298.92L266.6 299.39L267.1 298.99L267.6 299.27L268.1 299.07L268.6 299.32L269.1 298.91L269.6 299.36L270.6 299.29L271.1 299.62L272.6 299.26L273.1 299.52L274.1 299.12L276.1 299.54L276.6 300.01L277.1 299.55L278.1 299.38L278.6 299.34L279.1 299.89L280.6 300.07L281.1 299.78L282.1 299.87L282.6 299.63L283.1 299.71L283.6 299.44L284.6 300.15L285.6 299.63L286.1 299.97L286.6 299.41L287.6 299.68L288.1 299.27L288.6 299.4L289.6 298.41L290.1 298.41L290.6 298.1L292.6 292.49L293.1 293.33L294.1 296.91L294.6 297.81L295.6 298.74L296.1 299.69L296.6 299.59L297.1 299.97L297.6 300.18L298.1 300.1L298.6 300.46L299.1 300.15L300.1 300.71L300.6 300.53L302.1 301.27L302.6 300.6L303.1 300.5L304.1 301.22L305.1 300.78L305.6 301.1L306.6 300.92L307.6 301.03L308.1 301.38L309.1 301.32L309.6 301.57L310.1 301.26L312.6 301.44L313.1 301.71L313.6 301.41L314.6 301.69L315.6 301.75L316.1 301.57L316.6 301.94L317.6 302.04L318.1 301.78L318.6 301.96L319.1 301.63L319.6 301.96L320.1 301.84L320.6 302.17L321.1 302.2L321.6 301.82L322.1 301.76L323.1 302.22L323.6 301.84L324.6 302.21L326.1 302.02L328.1 302.49L328.6 302.11L329.6 302.83L330.1 302.26L330.6 302.46L331.1 302.39L331.6 302.64L332.1 302.29L333.1 302.82L333.6 302.54L335.1 302.68L335.6 303.1L336.1 302.49L336.6 302.67L338.1 302.69L338.6 303.23L339.1 302.44L339.6 302.81L341.6 302.74L342.6 303.27L343.1 302.74L344.1 303.14L345.1 302.99L346.1 303.3L346.6 302.97L347.1 303.07L347.6 302.83L348.6 303.2L349.1 302.93L349.6 303.22L350.1 303.24L350.6 302.98L351.1 303.01L351.6 303.44L353.1 303.19L353.6 303.55L355.1 303.15L355.6 303.22L356.6 302.71L358.1 302.45L358.6 301.69L360.1 300.56L360.6 300.69L361.1 301.86L362.1 302.99L362.6 302.81L363.1 303.03L363.6 302.94L364.1 303.43L364.6 303.23L365.6 303.84L366.1 303.46L366.6 303.72L367.6 303.73L368.1 303.41L368.6 303.97L370.6 304.28L371.6 304.04L373.1 304.32" fill="none" stroke="#000" stroke-width="1.6" stroke-linejoin="round"/>
<path d="M21.6 335.42L22.6 335.18L23.6 334.53L24.1 334.92L25.6 334.46L26.1 334.88L26.6 334.32L27.6 334.11L28.1 334.45L28.6 334.01L29.6 334.23L30.6 333.94L32.1 333.94L32.6 333.52L33.6 333.66L34.1 333.05L34.6 333.56L36.1 332.87L37.6 333.15L38.6 332.49L39.6 332.73L40.1 332.23L40.6 332.73L41.6 331.94L42.1 332.28L42.6 331.88L43.1 332.24L43.6 331.82L44.1 331.7L45.1 332.15L46.1 331.55L46.6 331.9L47.1 331.93L47.6 331.25L48.6 331.63L49.1 331.1L49.6 331.31L50.1 331.23L51.1 330.74L52.1 331.05L52.6 330.57L53.1 330.6L53.6 330.91L54.1 330.88L54.6 330.26L55.1 330.53L55.6 330.24L56.1 330.65L57.6 329.96L59.6 330.3L60.6 330.04L61.6 329.41L62.1 329.38L62.6 329.98L63.1 329.99L63.6 329.37L64.1 330.08L64.6 329.25L65.1 329.37L66.1 329.12L66.6 329.23L67.1 328.9L67.6 329.22L68.1 328.93L69.6 328.78L70.6 329.1L71.1 328.59L71.6 328.49L72.1 328.63L73.1 327.98L73.6 328.45L74.6 328.39L75.1 328.02L76.1 328.67L76.6 327.71L77.6 328.06L79.1 327.68L79.6 327.93L80.6 327.37L82.1 327.64L82.6 327.32L84.1 327.24L85.1 326.65L85.6 326.79L86.1 327.37L86.6 326.41L87.1 326.38L88.1 326.83L89.1 326.27L89.6 326.78L90.6 326.1L91.1 326.1L91.6 325.77L92.1 326.45L92.6 326.22L93.1 325.36L93.6 326.06L94.6 325.7L95.1 325.73L95.6 325.31L96.1 325.21L97.1 325.44L97.6 325.06L98.1 325.31L98.6 324.88L99.1 325.5L99.6 324.76L100.1 324.95L100.6 324.62L101.1 324.91L102.6 324.14L103.1 324.44L103.6 323.84L104.1 323.8L104.6 324.09L105.1 323.68L105.6 324.2L106.1 323.74L106.6 323.88L107.1 323.6L107.6 323.65L108.1 323.1L110.1 322.66L111.1 322.7L111.6 322.26L112.6 322.21L114.1 321.69L114.6 321.78L116.6 320.79L117.1 321.04L117.6 320.74L118.6 320.69L119.1 320.1L119.6 319.96L120.1 320.21L122.1 319.66L122.6 319.12L123.1 319.11L123.6 318.78L124.1 319.01L124.6 318.24L125.1 318.23L125.6 318.55L126.1 317.1L126.6 310.27L127.6 265.94L128.1 264.2L129.6 289.25L130.6 299.32L131.1 302.38L132.1 305.85L133.6 307.38L134.6 307.3L135.1 306.65L136.1 305.86L137.6 301.97L138.1 299.87L139.1 289.66L139.6 277.41L140.1 250.26L141.1 139.18L141.6 214.33L142.1 258.71L142.6 276.08L143.1 283.92L143.6 287.96L144.1 290.29L144.6 291.65L145.1 292.18L145.6 293.41L146.1 293.25L146.6 293.65L148.1 292.7L149.1 291.51L150.1 289.86L152.6 282.9L154.6 274.06L155.6 270.64L156.6 269.09L157.1 268.99L158.1 270.78L161.6 283.83L162.1 284.69L163.1 287.45L165.1 291.57L165.6 292.16L167.1 295.04L168.1 296.51L168.6 298.24L170.1 301.39L170.6 301.86L171.6 303.96L172.1 304.24L173.1 306.24L174.6 307.44L175.6 307.28L176.1 306.62L176.6 305.63L177.1 303.33L178.1 297.03L178.6 297.93L180.1 307.23L180.6 309.23L181.6 311.22L182.1 311.87L183.1 312.23L183.6 312.66L184.1 312.52L184.6 313.11L185.1 313.19L186.1 313.83L187.6 313.92L188.6 314.4L189.1 314.41L189.6 315.03L190.6 314.55L191.6 315.32L193.6 314.87L194.1 315.26L194.6 315.26L196.1 315.83L196.6 315.6L197.1 316.12L198.1 316.16L199.1 316.45L200.1 316.07L200.6 316.59L201.1 316.37L201.6 316.43L202.1 316.82L203.1 316.65L204.6 317.23L206.1 317.04L207.1 317.61L207.6 317.28L208.1 317.59L209.1 317.46L210.1 317.71L210.6 317.31L211.1 317.96L212.6 317.64L213.1 317.91L214.6 318.06L215.1 318.57L215.6 318.54L216.1 317.99L216.6 318.39L217.1 318.12L217.6 318.45L218.6 318.42L219.6 318.86L221.1 318.55L222.1 318.83L222.6 318.66L223.1 319.07L223.6 318.49L225.1 319.49L225.6 319.09L226.1 319.15L226.6 318.92L227.1 319.23L227.6 318.99L228.1 319.01L228.6 319.45L229.1 319.25L230.1 319.66L232.1 319.31L232.6 319.66L233.1 319.6L233.6 320.01L234.1 319.78L235.1 320.14L235.6 319.75L236.6 319.73L237.6 319.98L238.1 319.83L239.1 319.91L240.1 320.31L242.1 320.15L242.6 320.49L243.1 320.28L243.6 320.53L244.1 320.43L244.6 320.61L245.1 320.3L245.6 320.33L246.1 320.43L246.6 320.83L248.1 320.62L248.6 321.05L249.1 320.64L250.1 320.93L251.1 320.71L251.6 320.94L252.1 320.8L252.6 320.94L253.6 320.6L254.6 321.18L255.1 320.81L256.1 321.17L257.1 321.03L257.6 321.52L258.6 321.15L259.1 321.44L259.6 321.29L260.1 321.49L260.6 321.3L261.6 321.32L262.6 321.63L263.1 321.47L264.6 321.74L265.1 321.26L265.6 321.25L267.1 321.82L267.6 321.56L269.1 321.75L269.6 321.5L270.1 322.29L271.1 321.63L271.6 321.94L272.1 321.75L272.6 322.01L273.6 321.76L274.1 322.15L274.6 322.2L275.1 321.99L276.6 321.88L277.1 322L277.6 321.86L278.1 322.09L278.6 321.82L279.1 322.42L280.1 322.34L280.6 322.1L282.1 322.51L283.6 322.09L284.1 322.33L286.1 322.45L287.1 322.18L287.6 321.67L288.1 322.18L288.6 322.06L289.6 320.99L290.6 320.42L291.1 318.79L291.6 318.09L292.6 314.95L293.1 316.05L294.1 319.78L294.6 320.06L296.1 322.03L297.6 322.65L298.1 322.61L298.6 323.05L299.1 322.53L299.6 323.03L300.1 323.19L301.1 323.06L302.1 323.32L303.1 322.84L303.6 323.52L304.1 323.29L304.6 323.62L305.1 323.63L305.6 323.33L306.6 323.57L309.1 323.48L309.6 323.83L310.1 323.5L310.6 323.88L311.1 323.69L311.6 323.87L312.6 323.67L313.6 323.99L314.1 323.82L315.1 324.06L315.6 323.7L317.1 324.24L317.6 323.8L318.1 324.3L319.1 324.16L319.6 324.5L320.1 324.53L320.6 323.98L321.1 324.27L321.6 324.07L322.6 324.53L323.1 324.14L323.6 324.6L324.1 324.34L324.6 324.63L325.6 324.11L327.1 324.56L327.6 324.28L328.6 324.67L329.1 324.15L329.6 324.89L331.1 324.78L331.6 324.49L332.6 324.78L333.1 324.54L335.1 325.05L336.6 324.69L337.1 325.21L338.1 325.07L338.6 325.2L339.1 324.83L339.6 325.23L340.1 325.06L341.1 325.4L342.1 324.91L342.6 325.22L344.1 325.49L345.6 324.86L346.1 325.5L346.6 325.19L347.1 325.59L347.6 325.34L348.6 325.66L349.1 325.33L349.6 325.28L351.6 325.68L352.6 325.28L353.1 325.78L353.6 325.16L354.1 325.5L354.6 325.26L355.1 325.43L356.1 325.13L356.6 325.46L359.1 323.88L359.6 322.87L360.6 323.2L361.1 324.38L362.1 325.02L363.1 325.35L363.6 325.89L364.6 325.66L365.1 325.91L366.1 325.86L366.6 326.26L368.6 325.83L369.1 326.54L369.6 326.2L370.1 326.26L370.6 326.03L371.1 326.53L371.6 326.15L372.1 326.68L373.1 326.24" fill="none" stroke="#000" stroke-width="1.6" stroke-linejoin="round"/>
<path d="M21.6 356.69L22.1 356.91L22.6 356.64L23.1 356.9L24.1 356.66L24.6 356.75L25.1 356.48L25.6 356.8L26.1 356.44L27.1 356.35L27.6 355.81L28.6 356.36L29.1 356.24L29.6 355.65L30.1 355.84L32.6 355.35L34.1 355.56L34.6 354.99L35.1 355.12L36.1 354.82L36.6 355.32L37.1 354.95L38.1 354.8L39.1 354.34L39.6 354.7L40.1 353.96L40.6 354.28L41.1 353.95L41.6 354.14L42.1 353.87L43.1 353.78L43.6 353.99L44.6 353.65L45.1 354.01L45.6 353.65L46.1 353.87L46.6 353.51L47.1 352.8L48.6 353.38L49.1 353.03L49.6 353.37L50.1 352.74L51.1 352.7L52.1 352.28L52.6 352.65L53.6 352.62L54.1 352.79L55.6 352.2L56.6 352.4L57.1 351.81L57.6 351.62L58.1 352.33L58.6 352.29L59.1 351.85L60.6 351.73L61.1 351.33L62.6 351.72L63.6 351.09L64.6 351.28L66.1 351.17L66.6 351.39L67.6 350.77L68.1 351.16L69.1 350.59L69.6 350.98L70.1 350.72L71.6 350.68L72.1 350.35L72.6 350.53L74.1 350.04L75.6 350.27L76.1 349.75L76.6 349.9L77.1 349.51L77.6 349.86L78.1 349.25L78.6 349.59L80.6 349.02L81.1 349.26L81.6 348.97L82.1 349.07L83.1 348.84L84.1 349.15L84.6 348.43L85.1 348.66L85.6 348.44L87.1 348.88L89.1 348.06L90.6 348.21L91.1 347.89L92.1 348.15L92.6 347.57L94.1 347.63L94.6 347.29L95.6 347.28L96.1 347.07L96.6 347.28L98.1 346.62L98.6 346.86L99.1 346.71L99.6 346.91L100.1 346.28L100.6 346.33L101.1 346.64L102.6 345.93L103.1 346.12L104.1 345.87L104.6 345.29L105.6 345.59L106.1 345.34L107.1 345.26L107.6 344.78L108.1 344.92L108.6 344.58L109.1 344.95L109.6 344.86L111.1 343.98L112.1 344.13L112.6 343.87L114.1 343.62L115.1 342.78L115.6 343.22L116.1 342.77L118.1 342.51L118.6 342.25L119.1 341.67L119.6 341.77L120.1 341.45L120.6 341.63L121.6 341.06L122.1 341.05L122.6 340.77L123.1 341.06L123.6 340.3L124.1 340.55L124.6 339.99L125.1 339.89L125.6 339.56L126.1 338.71L126.6 331.77L127.6 288.9L128.1 286.43L129.6 311.26L130.1 317.03L131.1 324.04L132.1 327.44L132.6 328.1L133.1 328.49L134.1 328.86L135.6 327.8L137.1 324.94L138.1 320.88L138.6 317.28L139.1 310.85L139.6 298.88L140.1 272.02L141.1 160.29L141.6 236.37L142.1 282.5L142.6 300.02L143.6 312.46L144.6 315.83L145.6 317.1L146.1 317.39L147.6 316.34L148.6 314.76L149.1 314.59L149.6 313.23L151.6 307.07L155.6 287.43L156.1 286.25L157.1 285.46L157.6 285.61L158.1 287.04L161.1 299.97L163.1 306.47L164.1 308.84L164.6 309.41L167.1 314.82L167.6 316.35L168.6 318.27L170.1 322.01L170.6 323.68L173.6 328.61L174.6 329.44L175.6 329.44L176.1 329.03L176.6 328.14L177.1 325.95L178.1 319.36L178.6 320.29L179.6 327.75L180.1 329.97L181.1 332.61L181.6 333.55L182.1 333.77L182.6 334.68L183.1 334.77L183.6 335.17L184.6 335.49L185.1 335.91L186.6 336.53L187.6 336.08L188.1 336.79L188.6 336.55L189.1 336.8L189.6 336.76L190.6 337.34L191.1 337.43L191.6 337.19L192.1 337.36L192.6 337.18L193.1 337.68L193.6 337.41L194.1 337.54L194.6 338.22L195.1 338.25L195.6 338.02L196.6 338.35L197.1 338.23L198.1 338.56L198.6 338.43L199.6 338.58L200.6 339L201.6 338.76L202.1 338.98L202.6 338.88L203.1 339.33L204.1 339.18L204.6 339.59L205.6 339.19L206.1 339.63L209.1 339.84L210.1 340.38L210.6 339.91L212.1 339.9L212.6 340.25L213.6 340.16L214.1 340.47L214.6 339.95L215.1 340.49L216.1 340.31L216.6 340.8L217.1 340.61L218.6 340.95L219.1 340.71L219.6 340.88L220.1 341.41L220.6 340.84L221.1 340.66L221.6 341.34L222.1 341.02L222.6 341.51L223.1 341.19L223.6 341.41L224.6 341.37L225.1 340.88L225.6 341.4L226.6 341.87L227.1 341.67L228.6 341.77L229.1 341.36L229.6 341.82L230.1 341.32L231.1 341.84L232.1 341.76L232.6 342.04L233.1 341.56L233.6 341.63L234.1 342.12L234.6 341.89L236.1 342.05L237.1 341.94L238.1 342.01L238.6 342.43L239.1 342.11L240.1 342.02L241.1 342.34L242.1 342.39L242.6 342.69L243.1 342.31L243.6 342.84L244.6 342.66L245.1 342.29L245.6 342.74L246.6 342.93L247.6 342.68L248.1 342.73L248.6 343.15L250.1 342.55L252.1 343.23L252.6 343.01L253.6 343.27L254.6 343.01L255.6 343.28L257.6 343.41L258.6 342.88L259.1 343.29L259.6 343.08L260.1 343.62L260.6 342.98L261.1 343.6L262.1 343.37L262.6 343.62L263.6 343.38L264.1 343.62L265.6 343.43L266.1 343.67L267.1 343.72L267.6 344.04L268.1 343.62L268.6 343.73L269.1 344.14L269.6 343.75L270.1 343.98L270.6 343.69L271.1 344.11L272.1 343.77L272.6 344.01L273.6 344.04L274.1 344.51L274.6 344.1L275.6 343.88L276.6 344.43L277.6 344.02L278.1 344.23L278.6 343.91L279.1 343.86L279.6 344.14L281.1 344.4L283.1 344L283.6 344.69L284.1 343.93L284.6 344.31L285.6 344.49L287.6 344.21L288.1 343.76L289.6 343.55L290.1 343.11L290.6 342.37L291.6 339.89L292.6 336.52L293.1 337.51L293.6 339.8L294.1 341.11L294.6 342.23L295.6 343.61L297.6 344.68L298.1 344.61L298.6 344.97L299.1 344.95L299.6 345.22L300.1 344.78L300.6 345.12L301.1 345.11L301.6 344.69L302.6 345.72L303.1 345.37L304.1 345.19L306.1 345.49L306.6 345.26L307.1 345.36L307.6 345.81L308.6 345.65L309.6 345.74L310.1 345.28L311.1 345.92L311.6 345.75L312.1 345.86L312.6 345.63L313.6 346.17L314.1 346.13L314.6 345.44L316.1 345.91L316.6 345.6L317.1 345.83L318.1 345.85L319.1 346.25L319.6 345.66L320.1 346.18L322.1 346.06L323.1 346.4L323.6 346.14L324.1 346.43L324.6 346.12L325.6 346.37L326.1 346.23L326.6 346.67L327.1 346.16L327.6 346.53L328.1 346.36L329.1 346.58L329.6 346.92L330.1 346.41L331.1 346.5L331.6 346.94L332.1 346.59L333.6 346.45L334.6 346.64L335.1 346.26L336.1 347L336.6 346.99L337.1 346.6L337.6 346.57L338.1 346.93L338.6 346.76L339.1 347.08L339.6 346.58L340.1 346.61L340.6 347.05L341.1 346.86L342.1 347.09L342.6 346.95L343.1 347.42L343.6 346.97L346.1 347.46L346.6 347.01L347.6 347.18L348.6 347.09L350.1 347.51L350.6 347.2L351.1 347.26L351.6 347.65L352.1 347.18L352.6 347.52L353.1 347.19L353.6 347.57L354.1 347.09L354.6 347.4L355.6 347.07L356.6 347.23L357.1 346.85L357.6 346.81L358.1 346.51L359.1 345.16L359.6 344.82L360.6 345.13L361.1 345.56L361.6 346.49L362.1 346.35L362.6 346.97L363.6 347.69L364.1 347.56L364.6 347.88L366.6 348.01L367.1 347.59L367.6 347.69L368.1 348.24L368.6 347.94L369.6 347.86L370.1 347.62L371.1 348.19L371.6 348.02L372.1 348.42L372.6 348.13L373.1 348.19" fill="none" stroke="#000" stroke-width="1.6" stroke-linejoin="round"/>
<path d="M21.6 377.92L22.1 377.69L23.1 377.89L24.1 377.5L24.6 377.64L25.1 377.47L25.6 377.68L26.1 377.2L26.6 377.4L27.1 376.87L28.1 376.81L28.6 377L29.1 376.66L30.1 376.77L30.6 376.21L31.6 376.3L33.1 375.82L34.1 375.78L34.6 376.14L35.1 376.09L35.6 375.65L36.6 375.87L37.6 375.58L38.1 375.77L38.6 375.26L39.1 375.36L41.6 375.12L43.1 374.74L43.6 375.28L44.1 374.75L45.1 374.54L45.6 374.63L47.1 373.88L47.6 374.23L49.6 373.98L50.1 373.66L51.1 373.8L52.1 373.41L52.6 373.68L53.6 373.27L54.6 373.31L55.6 372.87L56.1 373.3L58.6 372.79L59.1 372.51L60.6 372.6L61.1 372.33L61.6 372.85L62.1 371.89L62.6 372.4L63.1 372.29L63.6 372.42L64.1 371.89L65.1 372.41L65.6 371.93L66.6 371.5L67.1 371.58L67.6 371.98L68.6 371.43L70.6 371.45L71.1 371.1L71.6 371.03L72.1 371.28L72.6 371.14L73.1 371.48L73.6 370.89L74.1 371.22L74.6 371.11L75.1 370.44L75.6 370.69L77.1 370.34L77.6 370.58L78.6 370.2L79.1 370.56L80.1 370.54L80.6 370.44L81.1 370.02L81.6 370.19L82.1 370.02L82.6 369.66L83.1 370.12L83.6 369.58L85.1 369.73L85.6 369.98L86.1 369.52L87.1 369.2L87.6 369.62L88.1 368.8L88.6 369.15L89.6 369.24L90.1 368.76L90.6 369.04L91.1 368.78L91.6 369.15L92.1 368.74L92.6 369.1L93.1 368.44L94.6 368.67L95.1 368.31L96.1 368.46L96.6 367.62L99.1 367.81L99.6 367.35L100.1 367.3L100.6 367.51L101.6 367.05L102.1 367.04L103.1 366.65L103.6 366.71L104.1 366.43L104.6 366.56L106.6 366.2L107.1 365.94L107.6 365.95L108.1 365.5L108.6 365.39L109.1 365.61L110.6 364.93L111.1 364.99L112.1 364.57L112.6 364.67L113.1 364.39L113.6 364.45L114.1 364.03L114.6 364.2L115.1 363.77L115.6 363.84L116.1 363.55L116.6 363.86L117.1 363.33L119.1 362.85L119.6 362.5L121.6 361.99L122.1 361.61L123.1 361.74L124.1 360.84L124.6 360.93L125.1 360.45L125.6 360.47L126.1 359.34L126.6 353.22L127.6 309.47L128.1 307.82L129.6 331.29L130.6 341.99L131.1 344.59L132.1 348L132.6 348.84L133.1 349.13L134.6 349.26L135.6 347.67L136.1 347.24L137.6 343.7L138.6 337.24L139.1 330.87L139.6 318.78L140.1 290.23L141.1 175.64L141.6 254.59L142.1 302.54L142.6 321.55L143.1 329.39L143.6 333.46L144.1 335.9L144.6 337.33L145.6 337.96L146.6 338.25L148.1 336.16L149.6 333.52L151.1 327.96L152.6 319.88L155.1 304.48L156.1 300.86L156.6 299.72L157.1 299.69L157.6 300.07L158.6 303.25L161.1 315.82L162.1 319.96L164.1 325.99L165.1 328.25L166.1 331.3L166.6 331.96L167.1 333.22L169.6 340.45L172.1 346.71L173.6 349.42L174.1 349.41L175.1 350.44L176.1 350.3L177.1 347.34L178.1 341.05L178.6 341.97L180.1 351.51L181.1 354.07L181.6 354.41L182.1 355.5L182.6 355.3L183.1 356.28L184.6 356.52L185.1 356.91L186.1 357.08L186.6 357.65L188.6 357.5L189.1 358.15L190.1 358.15L191.1 358.6L192.1 358.39L192.6 358.96L193.1 358.53L194.6 359.32L196.1 359.61L196.6 359.34L197.1 359.62L197.6 359.31L198.1 359.71L198.6 359.45L199.6 359.9L200.1 359.67L200.6 359.97L201.1 359.79L202.6 360.38L203.1 359.94L205.1 360.59L206.6 360.66L207.1 360.98L208.1 360.56L208.6 361.14L210.1 360.99L211.6 361.33L212.1 361.72L212.6 361.36L213.1 361.49L214.1 361.38L217.1 362.2L217.6 361.68L218.6 361.72L219.6 362.18L220.1 361.72L220.6 362.38L221.1 362.46L222.1 362.03L224.1 362.39L224.6 362.16L225.1 362.76L225.6 362.45L226.6 362.75L227.1 362.54L227.6 362.68L228.6 362.5L229.1 362.58L229.6 363.09L230.1 362.96L230.6 363.14L231.6 362.65L232.1 363.17L232.6 362.92L233.1 363.07L233.6 362.82L234.1 363.13L235.1 362.94L236.1 363.49L236.6 362.92L237.1 363.62L238.1 363.15L239.1 363.34L239.6 363.71L240.1 363.18L240.6 363.69L241.1 363.22L242.1 363.93L242.6 363.45L243.1 363.69L244.1 363.65L244.6 364.1L246.1 363.43L247.6 363.92L248.6 363.7L249.1 364.12L250.1 363.6L251.1 364.27L251.6 364.05L253.1 364.05L253.6 364.42L254.1 363.99L254.6 364.41L255.1 364L255.6 364.71L256.1 363.99L257.1 363.99L257.6 364.41L258.1 364.08L258.6 364.51L259.6 364.21L260.6 364.56L261.1 364.32L263.6 364.96L264.1 364.43L264.6 364.68L265.1 364.42L266.1 364.81L267.1 364.59L268.1 365.04L268.6 364.59L269.1 364.94L269.6 364.63L270.1 364.69L270.6 365.04L271.1 365L272.1 365.5L272.6 364.79L273.1 365.18L274.1 365.02L274.6 365.24L275.6 364.98L276.6 365.16L277.1 365.04L277.6 365.39L278.1 364.72L278.6 365.41L279.1 365.09L279.6 365.5L280.1 365.1L280.6 365L281.1 365.51L282.1 365.66L283.1 365.27L284.1 365.17L284.6 365.17L285.1 365.43L285.6 365.28L286.1 365.57L287.1 365.12L287.6 365.34L288.6 364.64L290.1 364.03L291.1 362.37L292.6 357.85L293.1 358.89L293.6 361.07L294.1 361.7L294.6 363.34L296.1 364.96L296.6 365.01L297.1 365.45L298.1 365.67L298.6 365.41L299.1 366.11L299.6 366.16L300.6 365.8L301.6 366.19L302.6 366.17L303.6 366.73L304.1 366.16L304.6 366.82L305.1 366.14L305.6 366.52L306.6 366.69L307.1 366.41L308.1 366.56L308.6 366.26L309.1 366.68L309.6 366.58L310.6 366.78L311.1 366.56L312.1 367.04L312.6 366.88L313.1 366.98L314.6 366.52L315.6 366.88L317.1 366.8L318.1 366.97L318.6 366.53L319.1 367L319.6 366.65L320.1 367.34L322.1 367.01L323.1 367.13L323.6 367.01L324.1 367.37L324.6 367.07L325.6 367.49L326.1 367.44L326.6 367.02L327.1 367.83L328.1 367.18L329.1 367.82L329.6 367.32L330.6 367.37L332.1 367.7L332.6 368.29L333.1 367.6L333.6 367.83L334.1 367.46L334.6 367.84L335.1 367.39L335.6 367.82L336.1 367.47L336.6 368.1L337.6 367.83L338.6 368.05L339.6 367.85L341.1 368.01L341.6 367.85L342.1 368.1L342.6 367.91L344.1 368.06L344.6 367.68L345.6 368.26L346.1 367.95L346.6 368.15L347.1 367.92L348.1 368.34L348.6 367.88L349.1 367.86L350.1 368.25L351.1 368.22L351.6 368.48L352.1 368.12L353.1 368.25L354.1 367.94L354.6 368.14L357.1 367.82L357.6 368.04L358.1 367.32L359.6 365.92L360.1 365.9L361.1 366.93L362.6 367.75L363.1 368.35L363.6 368.08L364.1 368.24L364.6 368.42L365.1 369L367.1 368.79L367.6 368.93L368.1 368.71L369.6 369.2L371.1 368.83L371.6 368.92L372.1 369.36L372.6 369.03L373.1 369.37" fill="none" stroke="#000" stroke-width="1.6" stroke-linejoin="round"/>
<path d="M21.6 400.33L22.1 399.49L22.6 400.19L23.1 399.61L24.1 399.46L24.6 399.7L25.1 399.25L27.1 398.84L28.1 399.32L30.1 398.47L31.1 398.63L32.6 397.97L33.1 398.5L33.6 398.03L34.1 398.56L35.1 397.91L35.6 398.1L36.6 397.33L37.1 397.63L37.6 397.06L38.1 397.62L38.6 397.3L40.1 397.13L40.6 396.84L41.6 397.07L42.1 396.73L42.6 397.03L43.6 396.8L44.1 396.35L44.6 396.98L45.6 396.53L46.6 396.54L47.1 395.97L47.6 396.18L48.1 395.88L48.6 396.07L49.6 395.82L50.1 396.09L51.1 395.58L51.6 395.7L52.6 395.37L53.6 395.71L55.1 394.97L55.6 395.41L57.1 394.9L57.6 395.03L58.1 394.44L58.6 395.09L59.1 394.46L59.6 394.38L60.1 394.66L60.6 394.49L61.6 394.58L62.1 394.17L62.6 394.43L63.1 394.04L65.6 394.1L67.1 393.72L67.6 393.97L68.6 393.48L69.1 393.73L70.1 393.37L70.6 393.62L71.1 393.3L72.1 393.47L72.6 393.13L73.1 393.32L74.6 392.82L75.1 392.94L75.6 392.72L77.1 392.75L77.6 392.25L78.6 392.5L79.1 392.12L79.6 392.53L80.6 391.88L81.1 392.03L81.6 391.79L82.6 392.01L83.6 391.43L84.1 391.8L84.6 391.36L85.1 391.79L85.6 391.6L86.6 391.94L87.1 391.21L87.6 391.81L88.1 391.33L89.6 391.34L90.1 390.8L90.6 390.94L91.1 390.55L91.6 390.91L93.6 390.39L94.1 390.42L94.6 390.13L96.1 390.13L96.6 390.36L98.1 389.52L98.6 389.82L99.1 389.38L99.6 389.82L100.6 389.26L101.1 389.27L101.6 389.01L102.1 389.1L102.6 388.78L103.6 388.66L104.1 388.89L104.6 388.77L105.1 388.32L107.1 388.25L108.6 387.9L109.6 387.2L110.1 387.12L110.6 387.45L112.1 386.71L112.6 387.02L113.1 386.32L113.6 386.52L114.1 386.19L115.1 386.15L115.6 385.52L116.1 385.4L116.6 385.55L118.1 384.75L120.6 384.66L121.1 384.13L122.1 384.01L123.1 383.44L123.6 383.45L124.1 382.71L124.6 383.05L125.6 382.73L126.1 381.28L126.6 374.53L127.6 331.51L128.1 329.88L130.1 359.92L130.6 364.13L131.1 366.62L132.1 369.89L133.1 371.09L133.6 371.39L134.1 371.06L134.6 371.07L135.1 370.67L136.6 368.83L138.1 363.05L138.6 359.36L139.1 352.57L139.6 339.92L140.1 311.01L141.1 192.55L141.6 274.95L142.1 324.85L142.6 343.91L143.1 352.86L143.6 357.72L144.1 360.26L144.6 361.75L145.1 362.21L145.6 362.53L146.6 362.46L148.6 360.29L151.1 353.03L153.6 339.87L154.6 333.28L156.1 326.76L156.6 325.61L157.6 326.59L158.1 327.74L159.6 333.81L160.6 339.14L162.1 345.05L162.6 346.16L163.6 349.69L165.1 353.25L165.6 353.88L166.6 355.9L168.1 360.18L169.1 362.44L169.6 364.2L170.1 364.91L172.1 369.74L174.1 373.04L174.6 373.43L175.1 373.26L175.6 373.74L176.1 373.51L177.1 370.4L178.1 364.92L178.6 365.57L179.6 372.7L180.6 376.09L182.1 377.81L184.1 379.38L184.6 379.2L185.1 379.33L185.6 379.8L186.1 379.68L186.6 379.96L187.1 379.59L187.6 380.4L188.6 380.27L189.1 380.56L189.6 380.51L190.1 380.9L190.6 380.44L191.1 381L191.6 381.21L192.1 381.27L192.6 380.84L193.1 381.38L193.6 381.26L194.1 381.59L195.1 381.32L196.1 381.99L196.6 382.05L197.1 381.75L197.6 381.85L198.1 382.24L198.6 381.94L200.1 382.6L200.6 381.95L201.1 382.61L201.6 382.39L202.1 382.45L203.6 382.98L204.1 382.62L204.6 382.98L205.6 382.86L206.1 383.26L207.1 382.99L207.6 383.41L208.1 383.48L208.6 383.2L209.6 383.5L210.1 382.84L211.1 383.65L211.6 383.5L212.6 384.03L213.1 383.43L214.6 384.16L215.1 383.6L215.6 384.36L217.1 384.04L217.6 384.27L218.1 384.03L218.6 384.16L219.1 383.98L219.6 384.41L220.1 384.36L221.1 384.76L221.6 384.46L222.1 384.77L222.6 384.83L223.1 384.6L223.6 384.96L224.1 384.99L224.6 384.87L225.1 384.32L225.6 384.8L226.1 384.68L227.1 384.98L227.6 384.62L228.1 384.97L229.6 384.74L230.1 385.19L230.6 385.22L231.1 384.87L231.6 385.26L232.6 385.4L233.1 385.02L234.6 385.54L235.1 385.23L237.6 385.79L238.1 385.44L238.6 385.41L239.1 385.78L239.6 385.65L240.1 385.96L240.6 385.25L241.1 385.77L242.1 385.82L243.1 385.55L243.6 386.15L244.1 385.63L245.1 386.14L245.6 386.12L246.1 385.71L246.6 385.95L247.1 385.62L248.1 386.24L248.6 386.07L249.6 386.24L250.6 386.05L251.1 386.38L251.6 386.1L252.6 386.09L253.1 386.27L253.6 385.86L254.1 386.67L254.6 386.56L255.1 386.01L255.6 386.54L256.1 386.42L256.6 386.63L257.6 386.11L258.1 386.93L258.6 386.2L259.1 386.51L259.6 386.44L260.1 386.92L261.1 386.42L261.6 386.79L262.1 386.38L264.6 386.93L265.6 386.88L266.1 386.66L267.1 386.92L267.6 386.71L268.1 387.23L268.6 387.09L270.1 387.49L271.1 387.11L272.1 387.37L272.6 386.95L274.1 387.34L274.6 387.15L275.6 387.59L276.1 387.13L276.6 387.02L277.1 387.58L278.1 387.01L278.6 387.47L279.1 387.58L279.6 386.9L280.6 387.21L281.1 387.05L281.6 387.88L282.1 387.49L282.6 387.73L283.1 387.49L283.6 387.65L284.6 387.2L285.1 387.7L285.6 387.33L286.6 387.01L287.1 387.38L287.6 386.93L288.1 387.02L289.1 386.79L289.6 386.38L290.1 386.5L291.1 384.18L292.1 380.67L292.6 380.14L294.1 384.37L295.1 386.45L296.6 387.15L297.1 387.63L298.1 387.75L298.6 388.18L299.1 388.34L299.6 387.93L300.1 388.26L301.1 388.44L301.6 388.12L302.6 388.53L303.1 388.08L304.1 388.27L304.6 388.76L306.6 388.33L307.1 388.71L309.1 388.56L309.6 388.89L310.1 388.37L310.6 388.62L311.6 388.69L312.1 388.51L313.6 388.93L314.1 388.65L314.6 388.84L315.6 388.83L316.1 388.95L316.6 389.34L317.1 389.38L318.6 388.96L322.1 389.49L323.1 389.18L323.6 389.44L324.6 389.01L325.6 389.63L326.6 389.14L328.1 389.61L328.6 389.43L329.6 389.49L330.1 389.28L330.6 389.9L332.1 389.34L332.6 389.98L333.1 389.97L333.6 389.53L334.1 389.99L334.6 389.54L335.6 389.94L336.6 389.65L337.1 389.88L339.6 389.86L340.1 390.22L340.6 389.85L341.1 390.08L343.1 389.69L343.6 390.15L344.1 389.85L344.6 390.18L345.1 389.86L345.6 390.05L347.1 390.13L347.6 389.75L348.1 390.17L348.6 389.93L349.1 390.59L349.6 390L350.1 389.94L350.6 390.23L352.1 390.04L353.1 390.39L354.1 389.98L355.1 389.82L355.6 389.95L356.1 389.46L356.6 389.98L357.1 389.3L357.6 389.27L358.6 388.63L359.6 386.8L360.6 387.41L362.1 389.31L363.1 389.72L363.6 390.36L364.1 390.18L364.6 390.77L366.1 390.88L367.1 390.63L367.6 390.79L369.1 390.69L369.6 390.88L370.1 390.66L372.1 391.14L373.1 390.83" fill="none" stroke="#000" stroke-width="1.6" stroke-linejoin="round"/>
<path d="M21.6 213.04L37.1 208.13L57.6 200.95L68.1 196.82L76.35 192.95L85.6 187.58L90.35 184.37L93.85 181.7L97.1 178.82L100.1 175.73L102.35 172.97L104.6 169.77L108.1 164.13L110.35 160.02L122.35 134.82L124.1 129.38L125.6 122.69L126.6 116.08L127.35 107.49L127.6 106.59L128.1 105.5L130.35 103.77L131.35 102.5L132.85 99.25L133.85 96.17L134.85 92.01L135.85 86.57L137.35 75.72L138.6 61.41L140.1 38.39L140.6 34.66L140.85 34.76L141.35 38.73L142.85 61.37L143.85 73.39L144.85 81.85L145.85 87.62L147.6 94.54L155.1 117.42L161.85 141.45L162.85 144.1L164.35 146.92L166.1 149.51L168.85 152.98L172.1 156.64L175.35 159.76L176.6 160.45L177.1 160.44L178.1 160.03L178.35 160.21L179.85 163.64L181.1 165.76L183.35 168.69L185.1 170.29L189.6 173L196.1 175.88L214.35 182.21L221.85 184.42L229.1 186.31L243.35 189.15L264.85 192.54L286.1 195.17L288.6 195.27L290.1 195.06L291.1 194.5L292.1 193.35L292.6 193.07L294.35 195.1L295.35 195.77L297.35 196.37L301.1 196.96L326.85 199.8L351.1 202L356.85 202.21L358.1 201.99L359.6 201.32L360.1 201.27L362.1 202.36L363.6 202.78L373.35 203.66" fill="none" stroke="#ff0000" stroke-width="2.4" stroke-linejoin="round"/>
<path d="M21.6 242.76L51.1 236.92L65.1 233.73L74.1 231.37L84.1 228.48L90.6 226.35L96.35 224.14L100.6 222.25L103.6 220.62L107.35 218.17L110.85 215.48L113.85 212.6L119.6 206.45L122.1 203.33L124.35 200L125.6 197.64L126.1 195.55L126.6 190.19L127.35 175.63L127.6 172.6L127.85 171.88L128.1 171.86L128.35 172.29L129.6 176.76L130.35 178.69L131.1 179.41L131.85 179.27L135.85 175.57L136.85 173.95L137.85 170.6L138.6 165.29L139.35 153.51L139.85 136.43L140.85 50.14L141.1 46.51L142.1 125.96L142.85 146.18L143.85 155.25L145.1 160.37L146.85 164.5L154.6 178L161.85 192.88L163.35 195.02L165.85 197.39L169.35 199.96L171.6 201.35L173.85 202.39L175.1 202.52L175.85 202.15L176.6 200.94L178.1 194.18L178.35 194.03L179.6 201.28L180.6 204.92L181.35 206.42L182.35 207.79L183.6 209.01L184.85 209.89L189.85 212.03L198.1 214.47L214.35 218.29L225.85 220.5L236.35 222.11L253.6 224.19L273.6 226.17L285.6 227.05L288.35 226.93L289.35 226.67L290.1 226.24L291.1 224.96L292.1 222.52L292.6 221.88L293.1 222.6L294.1 225.22L295.1 226.66L296.85 227.65L299.6 228.24L307.1 229.03L323.35 230.35L352.6 232.3L355.35 232.32L357.1 232.11L358.1 231.71L359.6 230.49L360.1 230.38L362.1 232.07L363.6 232.66L366.85 233.12L373.35 233.56" fill="none" stroke="#ff0066" stroke-width="2.4" stroke-linejoin="round"/>
<path d="M21.6 266.43L55.6 260.4L69.35 257.76L86.6 253.91L97.6 250.81L101.35 249.5L104.6 248.1L108.35 246.2L111.6 244.27L120.35 237.66L123.35 234.82L125.35 232.46L125.85 231.17L126.35 227.13L127.35 203.33L127.6 199.44L127.85 198.83L128.35 200.27L129.6 208.63L130.35 212.41L131.35 214.96L131.85 215.48L132.35 215.67L133.35 215.44L135.1 214.25L135.85 213.42L136.6 212.07L137.35 209.82L137.85 207.43L138.6 201.15L139.35 187.13L139.85 166.46L140.85 61.65L141.1 57.48L141.85 138.14L142.35 167.6L143.1 185L144.1 193.47L144.85 196.59L145.85 199.08L147.1 201L148.35 202.14L149.6 202.89L150.85 203.23L152.35 203.05L155.1 201.97L155.85 202.12L156.6 202.74L158.1 205.46L161.35 214.21L163.1 217.83L164.85 220.32L169.6 226.12L172.6 229.29L173.6 230.03L174.6 230.47L175.35 230.46L176.1 229.87L176.85 228.07L177.85 222.57L178.1 221.47L178.35 221.29L179.6 229L180.6 232.78L181.35 234.26L182.1 235.27L183.35 236.44L184.6 237.26L189.6 239.19L198.35 241.41L214.35 244.57L226.1 246.4L238.35 247.89L256.6 249.65L277.1 251.25L286.1 251.63L288.6 251.3L290.1 250.37L291.1 248.63L292.1 245.33L292.6 244.46L293.1 245.4L294.1 248.84L295.1 250.73L296.6 251.87L299.35 252.61L305.6 253.28L320.1 254.33L352.85 256.2L355.35 256.16L357.1 255.87L358.1 255.38L359.6 253.88L360.1 253.74L362.1 255.73L363.6 256.41L366.6 256.89L373.35 257.33" fill="none" stroke="#ff00c8" stroke-width="2.4" stroke-linejoin="round"/>
<path d="M21.6 290.71L71.85 282.61L86.35 280L95.1 278.16L102.1 276.3L108.6 273.91L113.6 271.56L121.1 267.32L125.1 264.35L125.6 263.62L125.85 262.79L126.35 257.98L127.35 228L127.6 223.19L127.85 222.65L128.35 225L130.1 240.93L130.6 243.86L131.35 246.68L132.35 248.47L133.35 248.93L134.1 248.78L134.85 248.35L136.1 246.89L137.35 243.54L138.1 239.48L138.85 231.37L139.35 220.59L140.1 180.76L140.85 89.62L141.1 85.76L141.85 173.29L142.6 214.27L143.1 224.74L143.85 232.29L144.85 236.74L145.6 238.38L146.35 239.31L147.35 239.86L148.35 239.8L149.35 239.27L150.35 238.23L152.1 235.06L155.35 226.61L156.1 225.57L156.85 225.48L157.6 226.4L158.35 228.18L161.35 238.12L163.1 242.51L170.6 255.19L172.85 258.33L173.85 259.28L174.85 259.77L175.6 259.64L176.1 259.13L176.85 257.18L177.85 251.21L178.1 250L178.35 249.77L180.1 260.28L180.85 262.38L182.1 264.19L183.85 265.5L186.6 266.64L190.85 267.78L196.85 269.01L214.35 271.76L231.35 273.62L258.85 275.7L284.1 277.04L287.85 276.83L289.1 276.43L289.85 275.93L290.85 274.52L292.1 270.62L292.6 269.74L293.1 270.67L294.1 274.1L295.1 275.97L296.6 277.09L299.35 277.79L305.1 278.34L318.1 279.13L352.85 280.74L355.35 280.68L357.1 280.37L358.1 279.87L359.6 278.36L360.1 278.22L362.1 280.19L363.6 280.87L366.6 281.32L373.35 281.72" fill="none" stroke="#ee00ee" stroke-width="2.4" stroke-linejoin="round"/>
<path d="M21.6 312.6L46.85 308.79L87.1 303.45L98.35 301.63L104.85 300.22L111.6 298.31L120.1 295.38L125.1 293.19L125.6 292.62L125.85 291.82L126.35 286.67L127.35 253.45L127.6 248.17L127.85 247.71L128.35 250.67L130.1 269.6L130.6 273.15L131.35 276.73L132.35 279.26L133.35 280.23L133.85 280.33L134.6 280.11L135.85 278.82L137.1 275.78L138.1 270.47L138.85 261.87L139.35 250.47L140.1 208.56L140.85 113.31L141.1 109.05L141.85 199.19L142.6 241.29L143.1 251.98L143.85 259.6L144.85 264.02L145.6 265.61L146.35 266.47L147.35 266.9L148.35 266.7L149.35 265.95L150.35 264.63L152.1 260.8L155.35 250.71L156.1 249.34L156.85 248.99L157.6 249.76L158.35 251.49L161.35 261.5L163.1 265.91L170.6 278.95L172.35 281.61L173.6 282.99L174.6 283.63L175.35 283.67L176.1 283.05L176.85 281.09L177.85 275.08L178.1 273.86L178.35 273.63L179.85 283.02L180.35 284.89L181.1 286.57L182.1 287.84L183.6 288.91L185.35 289.67L188.1 290.48L194.35 291.78L202.85 293.15L214.1 294.66L223.85 295.66L251.85 297.73L283.35 299.32L287.35 299.18L288.6 298.9L289.6 298.4L290.35 297.63L290.85 296.77L292.1 292.86L292.6 291.99L293.1 292.92L294.1 296.34L295.1 298.21L296.6 299.32L299.35 300L304.85 300.51L317.1 301.2L352.85 302.72L355.35 302.66L357.1 302.35L358.1 301.84L359.6 300.33L360.1 300.18L362.1 302.15L363.6 302.82L366.6 303.27L373.35 303.66" fill="none" stroke="#c800f5" stroke-width="2.4" stroke-linejoin="round"/>
<path d="M21.6 334.79L47.85 330.97L87.1 326.24L98.6 324.61L104.85 323.44L112.1 321.71L120.35 319.42L125.1 317.76L125.6 317.23L125.85 316.42L126.35 311.01L127.35 275.71L127.6 270.12L127.85 269.68L128.35 272.93L130.1 293.42L131.35 301.21L132.35 304.06L133.35 305.21L133.85 305.36L134.6 305.16L135.85 303.8L137.1 300.71L138.1 295.43L138.85 286.97L139.35 275.79L140.1 234.66L140.85 141.2L141.1 137.06L141.85 225.73L142.6 267.18L143.1 277.71L143.85 285.17L144.85 289.38L145.35 290.45L146.1 291.37L147.1 291.76L148.1 291.44L149.35 290.16L150.35 288.38L152.1 283.48L155.35 270.82L156.1 269.01L156.85 268.39L157.6 269.1L158.35 270.93L161.35 281.98L163.1 286.82L170.6 301.43L172.35 304.44L173.6 305.99L174.6 306.71L175.35 306.78L176.1 306.11L176.85 304L177.85 297.55L178.1 296.24L178.35 295.98L179.85 305.98L180.85 309.25L181.85 310.77L183.1 311.8L184.85 312.66L187.35 313.44L192.85 314.61L201.1 315.93L212.35 317.36L221.35 318.26L250.1 320.26L283.35 321.8L287.35 321.64L288.6 321.36L289.6 320.85L290.35 320.08L290.85 319.22L292.1 315.31L292.6 314.43L293.1 315.36L294.1 318.77L295.1 320.64L296.6 321.75L299.35 322.42L304.85 322.91L317.1 323.55L353.1 324.98L355.6 324.89L357.1 324.6L358.1 324.09L359.6 322.57L360.1 322.43L362.1 324.39L363.6 325.06L366.6 325.5L373.35 325.88" fill="none" stroke="#a400f5" stroke-width="2.4" stroke-linejoin="round"/>
<path d="M21.6 356.58L47.35 352.81L86.85 348.02L98.6 346.34L105.1 345.09L112.35 343.33L120.35 341.03L125.1 339.33L125.6 338.79L125.85 337.99L126.35 332.68L127.35 298.11L127.6 292.63L127.85 292.19L128.35 295.35L130.1 315.34L131.35 322.91L132.35 325.64L133.35 326.71L133.85 326.82L134.6 326.57L135.85 325.13L137.1 321.99L138.1 316.73L138.85 308.35L139.35 297.25L140.1 256.15L140.85 162.28L141.1 158.36L141.85 248.76L142.6 291.15L143.1 301.95L143.85 309.54L144.6 312.97L145.1 314.2L145.85 315.17L146.85 315.46L148.1 314.66L149.35 312.74L150.35 310.32L152.1 303.97L155.35 287.98L156.1 285.62L156.85 284.7L157.1 284.75L157.6 285.37L158.35 287.42L161.35 300.1L163.1 305.65L170.85 323.18L172.35 326.16L173.6 328.01L174.6 328.91L175.35 329.08L176.1 328.49L176.85 326.44L177.85 320.04L178.1 318.74L178.35 318.49L179.85 328.52L180.85 331.78L181.6 333L182.85 334.14L184.35 334.94L186.35 335.64L191.6 336.83L199.35 338.1L209.6 339.41L219.35 340.38L248.6 342.31L283.35 343.81L287.35 343.64L288.6 343.36L289.6 342.85L290.35 342.08L290.85 341.21L292.1 337.3L292.6 336.41L293.1 337.34L294.1 340.76L295.1 342.62L296.6 343.72L299.35 344.39L304.6 344.85L316.6 345.45L353.1 346.83L355.6 346.73L357.1 346.43L358.1 345.93L359.6 344.41L360.1 344.26L362.1 346.22L363.6 346.88L366.6 347.32L373.35 347.69" fill="none" stroke="#8000f5" stroke-width="2.4" stroke-linejoin="round"/>
<path d="M21.6 377.46L47.1 373.72L86.6 368.9L98.6 367.17L105.1 365.9L112.35 364.1L120.35 361.75L125.1 359.98L125.6 359.44L125.85 358.63L126.35 353.32L127.35 318.72L127.6 313.24L127.85 312.79L128.35 315.94L130.1 335.89L131.35 343.42L132.35 346.11L133.35 347.13L133.85 347.22L134.6 346.93L135.85 345.41L137.1 342.14L138.1 336.72L138.85 328.13L139.35 316.75L140.1 274.45L140.85 177.58L141.1 173.64L141.85 267.6L142.6 311.71L143.1 322.95L143.6 328.88L144.35 333.37L144.85 334.91L145.6 336.08L146.1 336.37L146.6 336.38L147.1 336.16L147.85 335.42L149.1 333.18L150.1 330.41L152.1 321.87L155.35 302.75L156.35 299.3L156.85 298.73L157.1 298.76L157.6 299.43L158.35 301.74L161.1 315.16L162.85 321.86L170.85 342.81L172.35 346.29L173.35 348.11L174.35 349.39L175.1 349.89L175.85 349.78L176.35 349.14L176.85 347.74L177.85 341.88L178.1 340.69L178.35 340.48L179.6 348.63L180.6 352.48L181.35 353.86L182.35 354.92L183.6 355.72L185.6 356.53L190.6 357.78L198.1 359.06L208.1 360.38L218.35 361.42L247.6 363.31L283.1 364.81L287.35 364.64L288.6 364.35L289.6 363.84L290.35 363.07L290.85 362.2L292.1 358.28L292.6 357.4L293.1 358.33L294.1 361.74L295.1 363.6L296.6 364.71L299.35 365.37L304.6 365.82L316.35 366.4L353.1 367.75L355.6 367.64L357.1 367.35L358.1 366.84L359.6 365.32L360.1 365.17L362.1 367.13L363.6 367.8L366.6 368.23L373.35 368.6" fill="none" stroke="#5500f5" stroke-width="2.4" stroke-linejoin="round"/>
<path d="M21.6 399.47L47.1 395.73L86.6 390.92L98.6 389.19L105.1 387.93L112.35 386.14L120.35 383.81L125.1 382.05L125.6 381.51L125.85 380.7L126.35 375.39L127.35 340.8L127.6 335.32L127.85 334.87L128.35 338.03L130.1 357.98L131.35 365.51L132.35 368.21L133.35 369.23L133.85 369.31L134.6 369.01L135.85 367.47L137.1 364.15L138.1 358.63L138.85 349.85L139.35 338.17L140.1 294.5L140.85 194.19L141.1 190.24L141.85 288.42L142.6 334.61L143.1 346.45L143.85 354.74L144.6 358.42L145.1 359.7L145.85 360.65L146.35 360.85L146.85 360.8L147.85 360.03L149.1 357.95L150.1 355.34L152.1 347.25L155.35 329.05L156.35 325.73L156.85 325.17L157.1 325.18L157.6 325.78L158.35 327.93L161.1 340.45L162.85 346.7L170.85 366.36L172.35 369.63L173.35 371.34L174.35 372.55L175.1 373.03L175.85 372.93L176.35 372.34L176.85 371.03L177.85 365.59L178.1 364.49L178.35 364.29L179.6 371.86L180.6 375.42L181.35 376.7L182.35 377.67L183.6 378.4L185.6 379.14L190.6 380.3L198.35 381.54L208.35 382.78L218.35 383.73L248.35 385.55L283.35 386.93L287.35 386.75L288.6 386.46L289.6 385.95L290.35 385.18L290.85 384.31L292.1 380.39L292.6 379.51L293.1 380.43L294.1 383.85L295.1 385.7L296.6 386.81L299.35 387.46L305.1 387.94L318.35 388.56L343.6 389.53L353.1 389.72L355.6 389.55L357.1 389.14L358.1 388.45L359.6 386.4L360.1 386.2L362.1 388.79L363.6 389.65L366.6 390.19L373.35 390.6" fill="none" stroke="#0a0af5" stroke-width="2.4" stroke-linejoin="round"/>
<line x1="141.05" y1="252" x2="141.05" y2="352" stroke="#0a0a30" stroke-width="0.9" opacity="0.85"/>
</g>
<text x="300" y="191.8" font-size="9.3">0.91 +/- 1.28 µs</text>
<text x="300" y="226.6" font-size="9.3">3.50 +/- 0.54 µs</text>
<text x="300" y="249.7" font-size="9.3">4.33 +/- 1.03 µs</text>
<text x="300" y="276.5" font-size="9.3">6.14 +/- 1.13 µs</text>
<text x="300" y="298.9" font-size="9.3">7.41 +/- 1.04 µs</text>
<text x="300" y="320.2" font-size="9.3">10.97 +/- 1.59 µs</text>
<text x="300" y="341.2" font-size="9.3">11.56 +/- 0.96 µs</text>
<text x="300" y="362.1" font-size="9.3">14.30 +/- 1.37 µs</text>
<text x="300" y="383.8" font-size="9.3">19.83 +/- 1.62 µs</text>
<path d="M21.6 408 V17.2 H373.6 V408" fill="none" stroke="#9a9a9a" stroke-width="1"/>
<line x1="21.1" y1="408.2" x2="373.8" y2="408.2" stroke="#222" stroke-width="1.1"/>
<line x1="80.25" y1="17.2" x2="80.25" y2="20" stroke="#9a9a9a" stroke-width="0.8"/>
<line x1="80.25" y1="408" x2="80.25" y2="405" stroke="#9a9a9a" stroke-width="0.8"/>
<line x1="138.9" y1="17.2" x2="138.9" y2="20" stroke="#9a9a9a" stroke-width="0.8"/>
<line x1="138.9" y1="408" x2="138.9" y2="405" stroke="#9a9a9a" stroke-width="0.8"/>
<line x1="197.55" y1="17.2" x2="197.55" y2="20" stroke="#9a9a9a" stroke-width="0.8"/>
<line x1="197.55" y1="408" x2="197.55" y2="405" stroke="#9a9a9a" stroke-width="0.8"/>
<line x1="256.2" y1="17.2" x2="256.2" y2="20" stroke="#9a9a9a" stroke-width="0.8"/>
<line x1="256.2" y1="408" x2="256.2" y2="405" stroke="#9a9a9a" stroke-width="0.8"/>
<line x1="314.85" y1="17.2" x2="314.85" y2="20" stroke="#9a9a9a" stroke-width="0.8"/>
<line x1="314.85" y1="408" x2="314.85" y2="405" stroke="#9a9a9a" stroke-width="0.8"/>
<text x="21.6" y="421.4" font-size="10.8" text-anchor="middle">1.0</text>
<text x="80.25" y="421.4" font-size="10.8" text-anchor="middle">1.5</text>
<text x="138.9" y="421.4" font-size="10.8" text-anchor="middle">2.0</text>
<text x="197.55" y="421.4" font-size="10.8" text-anchor="middle">2.5</text>
<text x="256.2" y="421.4" font-size="10.8" text-anchor="middle">3.0</text>
<text x="314.85" y="421.4" font-size="10.8" text-anchor="middle">3.5</text>
<text x="373.5" y="421.4" font-size="10.8" text-anchor="middle">4.0</text>
<text x="178.5" y="438.5" font-size="13">q</text>
<text x="190.3" y="439" font-size="12.2" style="font-family:'Liberation Serif',serif">[1/Å]</text>
<text transform="translate(13,212.4) rotate(-90)" font-size="13.3" text-anchor="middle">Normalized Intensity [arb. units]</text>
<text x="145" y="30.6" font-size="9.3">fcc 111</text>
<text x="145" y="42" font-size="9.3">hcp 002</text>
<text x="111.6" y="77" font-size="9.3">hcp</text>
<text x="111.6" y="88.2" font-size="9.3">100</text>
<text x="157.2" y="95" font-size="9.3">hcp 101</text>
<text x="169" y="135" font-size="9.3">fcc 200</text>
<text x="261.4" y="177.1" font-size="9.3">fcc 220</text>
<text x="30" y="391.4" font-size="8.1" font-style="italic">background</text>
<text x="111.5" y="400" font-size="11" fill="#1a8fe0" style="font-family:'Liberation Serif',serif">β<tspan font-size="5.2" dy="0.5">22</tspan></text>
<text x="182.5" y="400" font-size="11" fill="#e8901a" style="font-family:'Liberation Serif',serif">β<tspan font-size="5.2" dy="0.5">12</tspan></text>
<defs><linearGradient id="cb" x1="0" y1="0" x2="0" y2="1">
<stop offset="0" stop-color="#ff0010"/><stop offset="0.18" stop-color="#ff0060"/>
<stop offset="0.38" stop-color="#f800f0"/><stop offset="0.6" stop-color="#b800ff"/>
<stop offset="1" stop-color="#5010ff"/></linearGradient></defs>
<rect x="44.2" y="47.6" width="17.6" height="96.8" fill="url(#cb)"/>
<line x1="61.8" y1="48.2" x2="64.3" y2="48.2" stroke="#888" stroke-width="0.8"/>
<line x1="61.8" y1="72.2" x2="64.3" y2="72.2" stroke="#888" stroke-width="0.8"/>
<line x1="61.8" y1="95.8" x2="64.3" y2="95.8" stroke="#888" stroke-width="0.8"/>
<line x1="61.8" y1="119.8" x2="64.3" y2="119.8" stroke="#888" stroke-width="0.8"/>
<line x1="61.8" y1="143.3" x2="64.3" y2="143.3" stroke="#888" stroke-width="0.8"/>
<text x="67" y="51.7" font-size="11">1.0</text>
<text x="67" y="76.2" font-size="11">0.8</text>
<text x="67" y="100.2" font-size="11">0.4</text>
<text x="67" y="123.2" font-size="11">0.2</text>
<text x="67" y="147.6" font-size="11">0.0</text>
<text x="29.9" y="35.3" font-size="10.9">liquid fraction</text>
<rect x="229.3" y="24.4" width="140.2" height="106.6" fill="#fff"/>
<clipPath id="ic"><rect x="229.3" y="24.4" width="140.2" height="106.6"/></clipPath>
<g clip-path="url(#ic)">
<path d="M229.3 58.06L229.55 50.64L230.3 57.55L230.55 52.74L230.8 55.18L231.05 54.13L231.3 55.09L231.55 60.7L231.8 50.31L232.55 60.39L232.8 55.24L233.05 54.76L233.8 61.48L234.05 59.62L234.3 63.65L234.8 58.15L235.05 63.9L235.3 63.76L235.55 60.87L235.8 61.7L236.05 61.71L236.3 66.39L236.8 58.16L237.05 62.33L237.3 61.82L237.55 63.92L237.8 57.07L238.05 64.95L238.3 61.09L238.55 62.72L238.8 61.49L239.05 61.64L239.3 59.19L240.05 69.01L240.3 66L240.55 68.01L241.05 62.15L241.3 61.58L241.55 63.97L241.8 61.44L242.3 63.43L242.8 59.79L243.05 65.69L243.3 59.12L243.8 70.67L244.05 61.86L244.3 67.55L244.55 62.25L245.3 59.87L245.55 65.79L246.05 61.04L246.55 63.97L246.8 57.65L247.3 65.41L248.05 57.74L248.3 68.05L248.55 59.86L248.8 66.22L249.3 66.46L249.55 62.43L249.8 72.24L250.3 62.61L250.55 70.35L250.8 68.22L251.05 68.44L251.3 60.45L251.55 61.06L251.8 57.27L252.05 70.92L252.3 70.64L252.55 64.21L253.05 63.18L253.3 72.38L253.55 62.86L254.05 73.67L254.55 63.3L254.8 69.12L255.05 66.66L255.3 74.8L255.55 73.92L255.8 76.43L256.05 64.91L256.55 87.58L256.8 65.64L257.05 64.95L257.3 65.65L258.05 81.53L258.55 61.94L258.8 82.21L259.3 71.73L259.55 84.41L259.8 73.48L260.05 73.55L260.3 78.17L260.55 68.96L260.8 77.4L261.05 73.95L261.3 77.18L261.55 76.69L261.8 94.45L262.3 73.51L262.55 82.03L262.8 80.99L263.05 82L263.3 72.87L263.55 79.6L263.8 76.67L264.55 93.86L264.8 83.9L265.05 98.54L265.8 81.77L266.3 109.92L266.55 88.42L267.05 79.79L267.8 97.36L268.05 75.85L268.3 84.21L268.8 76.52L269.05 98.3L269.3 83.44L269.55 88.54L270.05 84.6L270.3 95.63L270.55 95.29L270.8 124.42L271.05 95.2L271.3 95.15L271.55 91.64L271.8 96.02L272.05 89.05L272.55 97.33L272.8 89.9L273.3 105.54L273.55 95.12L273.8 107.99L274.05 90.22L274.3 93.32L274.55 92.53L274.8 131.24L275.05 87.34L275.3 113.8L275.55 105.83L276.05 103.82L276.3 94.94L276.8 123.98L277.3 89.44L277.8 126.18L278.05 98.12L278.3 133L278.55 81.52L278.8 133L279.3 91.19L279.55 122.95L280.05 90.72L280.55 97.74L280.8 89.91L281.55 99.94L281.8 91.08L282.05 114.16L282.3 88.52L282.8 118.01L283.3 79.49L283.8 103.19L284.05 85.36L284.3 100.3L284.8 91.14L285.05 133L285.3 91.29L285.55 101.38L285.8 97.12L286.05 109.28L286.3 105.83L286.8 76.29L287.05 73.92L287.3 79.67L287.55 66.09L287.8 72.21L289.05 24.4L290.05 24.4L290.3 24.69L291.3 70.15L291.55 70.2L291.8 68.39L292.55 86.01L293.05 74.82L293.55 98.79L293.8 82.71L294.05 82.3L294.55 98.18L294.8 81.1L295.05 103.75L295.3 86.58L295.8 112.06L296.05 83.5L296.55 106.98L296.8 86.84L297.3 129.84L297.55 99.62L298.05 84.07L298.3 92.73L298.55 93.3L298.8 85.54L299.05 93.67L299.3 82.8L299.55 91.94L299.8 92.85L300.05 86.71L300.55 102.18L300.8 78.17L301.3 95.68L301.55 86.79L301.8 95.3L302.05 86.58L302.3 99.41L302.55 90.12L302.8 123.37L303.05 82.33L303.55 117.56L303.8 90L304.05 93.75L304.55 91.33L305.05 70.02L305.3 94.84L305.55 81.63L305.8 91.76L306.05 87.88L306.3 109.38L306.55 90.6L306.8 81.84L307.05 85.9L307.3 74.22L307.55 84.07L307.8 84.25L308.05 68.53L308.3 90.22L308.8 75.64L309.05 77.01L309.3 74.57L309.55 75.84L309.8 88.96L310.3 68.53L310.8 102.46L311.05 78.55L311.3 80.37L311.55 72.86L311.8 77.95L312.05 71.19L312.8 76.2L313.3 86.38L313.55 75.87L313.8 75.32L314.05 84.72L314.3 77.12L315.05 91.83L315.3 93.54L315.55 93.26L315.8 133L316.05 82.98L316.55 91.91L316.8 81.27L317.3 87.65L317.55 133L317.8 89.27L318.55 77.69L319.3 133L319.55 87.26L319.8 95.27L320.05 86.99L320.3 98.43L320.55 98.01L320.8 123.91L321.05 94.58L321.3 113.03L321.55 96.93L322.05 107.65L322.3 99.59L322.55 107.79L322.8 94.29L323.55 122.46L323.8 87.25L324.05 111.21L324.3 96.52L324.55 105.6L324.8 133L325.05 133L325.3 115.3L325.8 105.62L326.05 133L326.3 133L326.8 93.43L327.05 133L327.3 104.14L327.55 120.7L327.8 98.67L328.05 109.08L328.55 82.56L329.3 79.53L329.55 95.07L329.8 85.04L330.3 90.78L330.55 85.82L330.8 86.62L331.05 76.57L331.55 87.36L331.8 68.38L332.8 40.9L333.05 24.4L333.3 24.95L333.55 32.11L335.05 90.83L335.55 82.08L335.8 83.58L336.05 98.99L336.55 71.54L336.8 104.05L337.05 73.04L337.3 93.72L337.55 83.63L337.8 81.82L338.05 83.71L338.3 70.04L338.8 87.22L339.05 85.75L339.3 102.91L339.8 90.72L340.05 133L340.3 107.01L341.05 88.73L341.55 125.84L341.8 104.16L342.05 119.84L342.3 120.05L342.8 88.77L343.3 116.21L343.55 98.06L343.8 133L344.05 103.79L344.3 119.2L344.55 77.75L344.8 87.42L345.3 79.73L345.55 123.26L345.8 85.89L346.05 83.66L346.3 114.86L346.55 96.67L346.8 98.88L347.05 133L347.3 99.06L347.55 95.7L348.05 125.14L348.3 107.17L348.55 133L349.05 106.2L349.3 133L349.55 109.51L349.8 133" fill="none" stroke="#ababab" stroke-width="0.55"/>
<path d="M229.3 52.48L234.8 59.8L236.3 61.21L238.55 62.26L240.8 62.9L248.8 63.56L250.55 64.4L252.8 65.99L254.8 68.28L258.55 73.93L266.8 87.7L269.05 90.77L271.8 94.06L274.8 97.23L278.05 99.82L278.8 100L279.55 99.82L281.8 98.47L283.05 97.21L283.8 96.02L285.3 91.88L286.55 85.42L287.3 78.1L287.8 69.75L288.3 55.89L289.55 0.61L289.8 3.43L290.8 51.91L291.3 67.19L291.8 76.17L292.3 81.59L292.8 85.05L293.55 88.25L294.8 91.01L295.55 91.87L296.3 92.35L297.3 92.55L298.3 92.41L301.05 91.07L303.05 89.61L304.8 87.62L306.55 84.63L309.55 78.03L310.55 76.93L311.3 77.08L311.8 77.68L312.55 79.2L315.3 87.14L316.8 90.88L318.3 93.87L320.3 97.14L320.8 98.41L325.55 117.83L326.3 119.45L326.55 119.31L326.8 118.13L327.55 109.46L328.3 97.62L329.05 80.87L329.8 86.82L330.05 87.59L330.3 87.59L330.8 85.7L331.3 81.34L332.05 66.9L333.05 29.33L333.3 28.33L334.55 70.25L335.05 78.34L335.8 83.89L336.05 84.77L336.55 85.5L337.05 84.66L337.55 81.44L338.3 74.01L338.55 75.26L339.55 92.26L340.05 97.72L341.55 108.86L342.05 111.1L342.55 111.91L343.05 111.26L343.3 110.55L344.05 105.54L345.3 81L346.55 109.13L349.3 141.14L351.8 173.84" fill="none" stroke="#1f1fe0" stroke-width="1.6"/>
</g>
<rect x="229.3" y="24.4" width="140.2" height="106.6" fill="none" stroke="#9a9a9a" stroke-width="0.8"/>
<line x1="266.7" y1="131.0" x2="266.7" y2="129.0" stroke="#9a9a9a" stroke-width="0.6"/>
<line x1="266.7" y1="24.4" x2="266.7" y2="26.4" stroke="#9a9a9a" stroke-width="0.6"/>
<line x1="304.1" y1="131.0" x2="304.1" y2="129.0" stroke="#9a9a9a" stroke-width="0.6"/>
<line x1="304.1" y1="24.4" x2="304.1" y2="26.4" stroke="#9a9a9a" stroke-width="0.6"/>
<line x1="341.5" y1="131.0" x2="341.5" y2="129.0" stroke="#9a9a9a" stroke-width="0.6"/>
<line x1="341.5" y1="24.4" x2="341.5" y2="26.4" stroke="#9a9a9a" stroke-width="0.6"/>
<line x1="229.3" y1="121.78" x2="230.5" y2="121.78" stroke="#9a9a9a" stroke-width="0.5"/>
<line x1="369.5" y1="121.78" x2="368.3" y2="121.78" stroke="#9a9a9a" stroke-width="0.5"/>
<line x1="229.3" y1="114.81" x2="230.5" y2="114.81" stroke="#9a9a9a" stroke-width="0.5"/>
<line x1="369.5" y1="114.81" x2="368.3" y2="114.81" stroke="#9a9a9a" stroke-width="0.5"/>
<line x1="229.3" y1="109.4" x2="230.5" y2="109.4" stroke="#9a9a9a" stroke-width="0.5"/>
<line x1="369.5" y1="109.4" x2="368.3" y2="109.4" stroke="#9a9a9a" stroke-width="0.5"/>
<line x1="229.3" y1="104.98" x2="230.5" y2="104.98" stroke="#9a9a9a" stroke-width="0.5"/>
<line x1="369.5" y1="104.98" x2="368.3" y2="104.98" stroke="#9a9a9a" stroke-width="0.5"/>
<line x1="229.3" y1="101.24" x2="230.5" y2="101.24" stroke="#9a9a9a" stroke-width="0.5"/>
<line x1="369.5" y1="101.24" x2="368.3" y2="101.24" stroke="#9a9a9a" stroke-width="0.5"/>
<line x1="229.3" y1="98.01" x2="230.5" y2="98.01" stroke="#9a9a9a" stroke-width="0.5"/>
<line x1="369.5" y1="98.01" x2="368.3" y2="98.01" stroke="#9a9a9a" stroke-width="0.5"/>
<line x1="229.3" y1="95.15" x2="230.5" y2="95.15" stroke="#9a9a9a" stroke-width="0.5"/>
<line x1="369.5" y1="95.15" x2="368.3" y2="95.15" stroke="#9a9a9a" stroke-width="0.5"/>
<line x1="229.3" y1="92.6" x2="231.5" y2="92.6" stroke="#9a9a9a" stroke-width="0.5"/>
<line x1="369.5" y1="92.6" x2="367.3" y2="92.6" stroke="#9a9a9a" stroke-width="0.5"/>
<line x1="229.3" y1="75.8" x2="230.5" y2="75.8" stroke="#9a9a9a" stroke-width="0.5"/>
<line x1="369.5" y1="75.8" x2="368.3" y2="75.8" stroke="#9a9a9a" stroke-width="0.5"/>
<line x1="229.3" y1="65.98" x2="230.5" y2="65.98" stroke="#9a9a9a" stroke-width="0.5"/>
<line x1="369.5" y1="65.98" x2="368.3" y2="65.98" stroke="#9a9a9a" stroke-width="0.5"/>
<line x1="229.3" y1="59.01" x2="230.5" y2="59.01" stroke="#9a9a9a" stroke-width="0.5"/>
<line x1="369.5" y1="59.01" x2="368.3" y2="59.01" stroke="#9a9a9a" stroke-width="0.5"/>
<line x1="229.3" y1="53.6" x2="230.5" y2="53.6" stroke="#9a9a9a" stroke-width="0.5"/>
<line x1="369.5" y1="53.6" x2="368.3" y2="53.6" stroke="#9a9a9a" stroke-width="0.5"/>
<line x1="229.3" y1="49.18" x2="230.5" y2="49.18" stroke="#9a9a9a" stroke-width="0.5"/>
<line x1="369.5" y1="49.18" x2="368.3" y2="49.18" stroke="#9a9a9a" stroke-width="0.5"/>
<line x1="229.3" y1="45.44" x2="230.5" y2="45.44" stroke="#9a9a9a" stroke-width="0.5"/>
<line x1="369.5" y1="45.44" x2="368.3" y2="45.44" stroke="#9a9a9a" stroke-width="0.5"/>
<line x1="229.3" y1="42.21" x2="230.5" y2="42.21" stroke="#9a9a9a" stroke-width="0.5"/>
<line x1="369.5" y1="42.21" x2="368.3" y2="42.21" stroke="#9a9a9a" stroke-width="0.5"/>
<line x1="229.3" y1="39.35" x2="230.5" y2="39.35" stroke="#9a9a9a" stroke-width="0.5"/>
<line x1="369.5" y1="39.35" x2="368.3" y2="39.35" stroke="#9a9a9a" stroke-width="0.5"/>
<line x1="229.3" y1="36.8" x2="231.5" y2="36.8" stroke="#9a9a9a" stroke-width="0.5"/>
<line x1="369.5" y1="36.8" x2="367.3" y2="36.8" stroke="#9a9a9a" stroke-width="0.5"/>
<text x="215.5" y="39.9" font-size="7.2">10<tspan font-size="4.5" dy="-3">-2</tspan></text>
<text x="215.5" y="95.6" font-size="7.2">10<tspan font-size="4.5" dy="-3">-3</tspan></text>
<text x="229.3" y="140" font-size="7.2" text-anchor="middle">2.5</text>
<text x="266.7" y="140" font-size="7.2" text-anchor="middle">3.0</text>
<text x="304.1" y="140" font-size="7.2" text-anchor="middle">3.5</text>
<text x="341.5" y="140" font-size="7.2" text-anchor="middle">4.0</text>
<text x="274" y="150.4" font-size="7.4">q <tspan style="font-family:'Liberation Serif',serif">[1/Å]</tspan></text>
<text transform="translate(213,77.3) rotate(-90)" font-size="8.7" text-anchor="middle">Intensity x 100 [arb. units]</text>
<text x="232.6" y="32.6" font-size="7">t = 19.83 µs</text>
<text x="249" y="52" font-size="7">hcp 102</text>
<text x="293.3" y="31" font-size="7" font-style="italic">fcc 220</text>
<text x="292.7" y="38.2" font-size="7">hcp 110</text>
<text x="335.3" y="31" font-size="7" font-style="italic">fcc 131</text>
<text x="335.3" y="38.2" font-size="7">hcp 112</text>
<text x="304.5" y="50.9" font-size="7">hcp 200</text>
<text x="338" y="50.9" font-size="7">hcp 201</text>
<text x="298" y="65.4" font-size="7">hcp 103</text>
<text x="344.3" y="74.8" font-size="7" font-style="italic">fcc 222</text>
<line x1="328.6" y1="53" x2="328.6" y2="84.7" stroke="#000" stroke-width="0.8"/>
<line x1="338.4" y1="53" x2="338.4" y2="74.8" stroke="#000" stroke-width="0.8"/>
<text x="394.3" y="10.6" font-size="14.2" font-weight="bold">(b)</text>
<clipPath id="bc"><rect x="435.2" y="16.3" width="232.2" height="175.89999999999998"/></clipPath>
<g clip-path="url(#bc)">
<path d="M435.2 122.4L445.2 114.68L456.7 106.45L463.95 101.56L469.95 98.03L479.2 93.44L488.7 89.48L497.45 86.51L506.2 84.32L530.2 79.66L544.95 76.54L549.7 75.83L559.2 74.92L579.45 73.63L607.2 72.39L639.7 71.52L667.2 71.1" fill="none" stroke="#1db83a" stroke-width="1.3"/>
<path d="M435.2 76.3L448.45 73.24L459.7 71.21L468.45 70.13L483.95 68.96L494.95 68.46L504.7 68.46L514.95 68.93L532.95 70.22L550.2 72.03L562.45 74.09L599.45 81.39L638.2 88.74L667.2 94.76" fill="none" stroke="#f020f0" stroke-width="1.3"/>
<path d="M435.2 102.3L438.45 101.79L441.7 101.02L449.95 98.22L454.45 96.08L459.2 93.08L465.95 87.98L473.2 81.88L477.45 77.62L487.7 66.6L497.7 56.67L499.7 55.18L504.95 52.09L507.45 51.1L509.45 50.8L511.2 50.97L513.45 51.57L516.7 52.79L518.7 53.91L523.2 57.29L532.7 67.03L534.7 68.77L537.95 71.18L542.7 74.38L547.45 77.13L552.95 79.74L556.95 81.22L564.2 82.86L572.95 84.37L635.95 92.7L650.45 94.98L667.2 97.96" fill="none" stroke="#25b0ea" stroke-width="1.3"/>
<path d="M497.6 200L498.8 110L499.4 87.85L500.2 67.57L500.4 66.87L500.8 66.54L501 66.5L501.2 66.96L502 72L502.6 73.95L503 74.5L503.4 74.1L504.4 71.68L505.8 69.95L506.4 68.69L507 64.51L507.8 55L508.6 34.71L509 29.2L509.4 34.7L510.2 55L511 64.64L511.4 66.6L512.2 67.03L516.2 68.22L517.8 69.25L519 70.82L521.2 74.31L524.6 80.43L526.4 82.93L527.2 83.49L527.6 83.37L528 82.84L529.4 79.27L531 71.99L531.4 71.05L531.6 71.07L532.2 73.86L534.4 91.38L535.4 96.52L539.6 113.76L541 117.61L542.8 121.47L546.2 127.64L548.6 131.54L550.8 134.51L553.8 137.95L558.6 142.69L565.8 149.23L569.4 152.07L575.8 156.53L578.8 158.09L582.2 159.11L584.8 159.5L586.6 159.21L591.2 156.97L593.8 155.17L596 152.7L597.6 149.52L598.6 146.68L599.4 143.28L600.6 133.78L602.2 92.99L602.4 89.59L602.6 89.59L604.4 133.6L605.6 145.02L606.2 147.75L607 150.23L607.6 151.45L608.4 152.17L614.2 154.49L616 155.5L617.4 156.58L622.6 162.06L628.4 169.13L631.6 172.54L633.8 174.6L635.8 176.08L636.6 176.53L637.2 176.48L637.8 174.99L638.6 171.48L639.2 166.61L641.2 144.17L642.8 117.46L643.2 112.96L643.4 111.77L643.6 111.88L644.4 125L645.2 143.62L645.8 149.89L646.4 153.29L647 154.04L648.4 154.89L649.2 156.16L651.2 161.64L652.4 166.61L653 167.7L653.6 166.55L654.4 162.59L655.2 153.84L655.8 150L656 149.6L656.2 149.9L656.6 151.76L657 154.76L659.6 187.48L660.8 206.27" fill="none" stroke="#f5a020" stroke-width="1.3"/>
<path d="M494.2 48.89L497.7 46.61L499.2 45.09L499.95 43.45L500.95 39.11L501.2 39.29L501.95 41.99L502.7 42.92L503.45 42.93L504.45 42.48L505.7 41.49L506.45 40.54L507.2 38.89L507.7 36.85L508.95 24.83L509.2 24.49L510.45 35.58L510.95 37.37L511.7 38.55L512.7 39.08L516.2 39.58L518.7 40.31L528.7 44.98L529.95 45.33" fill="none" stroke="#111" stroke-width="1.1"/>
<path d="M435.2 71.5L451.95 65.81L483.45 54.53L490.45 51.62L495.45 48.83L497.95 47.11L499.2 45.79L499.95 44.15L500.95 39.81L501.2 39.99L501.95 42.69L502.7 43.62L503.45 43.63L504.45 43.18L505.7 42.19L506.45 41.24L507.2 39.59L507.7 37.55L508.95 25.53L509.2 25.19L510.45 36.28L510.95 38.07L511.45 38.98L511.95 39.45L512.95 39.84L516.45 40.33L518.7 41.01L529.45 45.96L530.2 46.01L530.7 45.77L531.7 44.38L531.95 44.28L533.7 48.14L534.45 49.05L535.7 49.96L537.95 51.06L541.2 52.29L549.95 54.79L556.45 56.16L564.7 57.13L583.45 58.52L597.45 59.25L599.45 59.19L600.7 58.81L601.45 57.91L602.2 55.85L602.45 55.64L603.7 58.59L604.45 59.19L605.7 59.56L639.45 61.84L641.45 61.81L642.45 61.48L642.95 60.98L643.95 58.87L644.2 59.09L645.2 61.4L645.95 62.05L646.95 62.41L667.2 64.97" fill="none" stroke="#e41414" stroke-width="1.55"/>
</g>
<rect x="435.2" y="16.3" width="232.2" height="175.89999999999998" fill="none" stroke="#9a9a9a" stroke-width="0.9"/>
<line x1="471.6" y1="192.2" x2="471.6" y2="189.7" stroke="#9a9a9a" stroke-width="0.7"/>
<line x1="471.6" y1="16.3" x2="471.6" y2="18.8" stroke="#9a9a9a" stroke-width="0.7"/>
<line x1="508" y1="192.2" x2="508" y2="189.7" stroke="#9a9a9a" stroke-width="0.7"/>
<line x1="508" y1="16.3" x2="508" y2="18.8" stroke="#9a9a9a" stroke-width="0.7"/>
<line x1="544.4" y1="192.2" x2="544.4" y2="189.7" stroke="#9a9a9a" stroke-width="0.7"/>
<line x1="544.4" y1="16.3" x2="544.4" y2="18.8" stroke="#9a9a9a" stroke-width="0.7"/>
<line x1="580.8" y1="192.2" x2="580.8" y2="189.7" stroke="#9a9a9a" stroke-width="0.7"/>
<line x1="580.8" y1="16.3" x2="580.8" y2="18.8" stroke="#9a9a9a" stroke-width="0.7"/>
<line x1="617.2" y1="192.2" x2="617.2" y2="189.7" stroke="#9a9a9a" stroke-width="0.7"/>
<line x1="617.2" y1="16.3" x2="617.2" y2="18.8" stroke="#9a9a9a" stroke-width="0.7"/>
<line x1="653.6" y1="192.2" x2="653.6" y2="189.7" stroke="#9a9a9a" stroke-width="0.7"/>
<line x1="653.6" y1="16.3" x2="653.6" y2="18.8" stroke="#9a9a9a" stroke-width="0.7"/>
<line x1="435.2" y1="192.3" x2="437.7" y2="192.3" stroke="#9a9a9a" stroke-width="0.6"/>
<line x1="667.4" y1="192.3" x2="664.9" y2="192.3" stroke="#9a9a9a" stroke-width="0.6"/>
<line x1="435.2" y1="179.64" x2="436.5" y2="179.64" stroke="#9a9a9a" stroke-width="0.6"/>
<line x1="667.4" y1="179.64" x2="666.1" y2="179.64" stroke="#9a9a9a" stroke-width="0.6"/>
<line x1="435.2" y1="172.24" x2="436.5" y2="172.24" stroke="#9a9a9a" stroke-width="0.6"/>
<line x1="667.4" y1="172.24" x2="666.1" y2="172.24" stroke="#9a9a9a" stroke-width="0.6"/>
<line x1="435.2" y1="166.98" x2="436.5" y2="166.98" stroke="#9a9a9a" stroke-width="0.6"/>
<line x1="667.4" y1="166.98" x2="666.1" y2="166.98" stroke="#9a9a9a" stroke-width="0.6"/>
<line x1="435.2" y1="162.91" x2="436.5" y2="162.91" stroke="#9a9a9a" stroke-width="0.6"/>
<line x1="667.4" y1="162.91" x2="666.1" y2="162.91" stroke="#9a9a9a" stroke-width="0.6"/>
<line x1="435.2" y1="159.58" x2="436.5" y2="159.58" stroke="#9a9a9a" stroke-width="0.6"/>
<line x1="667.4" y1="159.58" x2="666.1" y2="159.58" stroke="#9a9a9a" stroke-width="0.6"/>
<line x1="435.2" y1="156.76" x2="436.5" y2="156.76" stroke="#9a9a9a" stroke-width="0.6"/>
<line x1="667.4" y1="156.76" x2="666.1" y2="156.76" stroke="#9a9a9a" stroke-width="0.6"/>
<line x1="435.2" y1="154.33" x2="436.5" y2="154.33" stroke="#9a9a9a" stroke-width="0.6"/>
<line x1="667.4" y1="154.33" x2="666.1" y2="154.33" stroke="#9a9a9a" stroke-width="0.6"/>
<line x1="435.2" y1="152.17" x2="436.5" y2="152.17" stroke="#9a9a9a" stroke-width="0.6"/>
<line x1="667.4" y1="152.17" x2="666.1" y2="152.17" stroke="#9a9a9a" stroke-width="0.6"/>
<line x1="435.2" y1="150.25" x2="437.7" y2="150.25" stroke="#9a9a9a" stroke-width="0.6"/>
<line x1="667.4" y1="150.25" x2="664.9" y2="150.25" stroke="#9a9a9a" stroke-width="0.6"/>
<line x1="435.2" y1="137.59" x2="436.5" y2="137.59" stroke="#9a9a9a" stroke-width="0.6"/>
<line x1="667.4" y1="137.59" x2="666.1" y2="137.59" stroke="#9a9a9a" stroke-width="0.6"/>
<line x1="435.2" y1="130.19" x2="436.5" y2="130.19" stroke="#9a9a9a" stroke-width="0.6"/>
<line x1="667.4" y1="130.19" x2="666.1" y2="130.19" stroke="#9a9a9a" stroke-width="0.6"/>
<line x1="435.2" y1="124.93" x2="436.5" y2="124.93" stroke="#9a9a9a" stroke-width="0.6"/>
<line x1="667.4" y1="124.93" x2="666.1" y2="124.93" stroke="#9a9a9a" stroke-width="0.6"/>
<line x1="435.2" y1="120.86" x2="436.5" y2="120.86" stroke="#9a9a9a" stroke-width="0.6"/>
<line x1="667.4" y1="120.86" x2="666.1" y2="120.86" stroke="#9a9a9a" stroke-width="0.6"/>
<line x1="435.2" y1="117.53" x2="436.5" y2="117.53" stroke="#9a9a9a" stroke-width="0.6"/>
<line x1="667.4" y1="117.53" x2="666.1" y2="117.53" stroke="#9a9a9a" stroke-width="0.6"/>
<line x1="435.2" y1="114.71" x2="436.5" y2="114.71" stroke="#9a9a9a" stroke-width="0.6"/>
<line x1="667.4" y1="114.71" x2="666.1" y2="114.71" stroke="#9a9a9a" stroke-width="0.6"/>
<line x1="435.2" y1="112.28" x2="436.5" y2="112.28" stroke="#9a9a9a" stroke-width="0.6"/>
<line x1="667.4" y1="112.28" x2="666.1" y2="112.28" stroke="#9a9a9a" stroke-width="0.6"/>
<line x1="435.2" y1="110.12" x2="436.5" y2="110.12" stroke="#9a9a9a" stroke-width="0.6"/>
<line x1="667.4" y1="110.12" x2="666.1" y2="110.12" stroke="#9a9a9a" stroke-width="0.6"/>
<line x1="435.2" y1="108.2" x2="437.7" y2="108.2" stroke="#9a9a9a" stroke-width="0.6"/>
<line x1="667.4" y1="108.2" x2="664.9" y2="108.2" stroke="#9a9a9a" stroke-width="0.6"/>
<line x1="435.2" y1="95.54" x2="436.5" y2="95.54" stroke="#9a9a9a" stroke-width="0.6"/>
<line x1="667.4" y1="95.54" x2="666.1" y2="95.54" stroke="#9a9a9a" stroke-width="0.6"/>
<line x1="435.2" y1="88.14" x2="436.5" y2="88.14" stroke="#9a9a9a" stroke-width="0.6"/>
<line x1="667.4" y1="88.14" x2="666.1" y2="88.14" stroke="#9a9a9a" stroke-width="0.6"/>
<line x1="435.2" y1="82.88" x2="436.5" y2="82.88" stroke="#9a9a9a" stroke-width="0.6"/>
<line x1="667.4" y1="82.88" x2="666.1" y2="82.88" stroke="#9a9a9a" stroke-width="0.6"/>
<line x1="435.2" y1="78.81" x2="436.5" y2="78.81" stroke="#9a9a9a" stroke-width="0.6"/>
<line x1="667.4" y1="78.81" x2="666.1" y2="78.81" stroke="#9a9a9a" stroke-width="0.6"/>
<line x1="435.2" y1="75.48" x2="436.5" y2="75.48" stroke="#9a9a9a" stroke-width="0.6"/>
<line x1="667.4" y1="75.48" x2="666.1" y2="75.48" stroke="#9a9a9a" stroke-width="0.6"/>
<line x1="435.2" y1="72.66" x2="436.5" y2="72.66" stroke="#9a9a9a" stroke-width="0.6"/>
<line x1="667.4" y1="72.66" x2="666.1" y2="72.66" stroke="#9a9a9a" stroke-width="0.6"/>
<line x1="435.2" y1="70.23" x2="436.5" y2="70.23" stroke="#9a9a9a" stroke-width="0.6"/>
<line x1="667.4" y1="70.23" x2="666.1" y2="70.23" stroke="#9a9a9a" stroke-width="0.6"/>
<line x1="435.2" y1="68.07" x2="436.5" y2="68.07" stroke="#9a9a9a" stroke-width="0.6"/>
<line x1="667.4" y1="68.07" x2="666.1" y2="68.07" stroke="#9a9a9a" stroke-width="0.6"/>
<line x1="435.2" y1="66.15" x2="437.7" y2="66.15" stroke="#9a9a9a" stroke-width="0.6"/>
<line x1="667.4" y1="66.15" x2="664.9" y2="66.15" stroke="#9a9a9a" stroke-width="0.6"/>
<line x1="435.2" y1="53.49" x2="436.5" y2="53.49" stroke="#9a9a9a" stroke-width="0.6"/>
<line x1="667.4" y1="53.49" x2="666.1" y2="53.49" stroke="#9a9a9a" stroke-width="0.6"/>
<line x1="435.2" y1="46.09" x2="436.5" y2="46.09" stroke="#9a9a9a" stroke-width="0.6"/>
<line x1="667.4" y1="46.09" x2="666.1" y2="46.09" stroke="#9a9a9a" stroke-width="0.6"/>
<line x1="435.2" y1="40.83" x2="436.5" y2="40.83" stroke="#9a9a9a" stroke-width="0.6"/>
<line x1="667.4" y1="40.83" x2="666.1" y2="40.83" stroke="#9a9a9a" stroke-width="0.6"/>
<line x1="435.2" y1="36.76" x2="436.5" y2="36.76" stroke="#9a9a9a" stroke-width="0.6"/>
<line x1="667.4" y1="36.76" x2="666.1" y2="36.76" stroke="#9a9a9a" stroke-width="0.6"/>
<line x1="435.2" y1="33.43" x2="436.5" y2="33.43" stroke="#9a9a9a" stroke-width="0.6"/>
<line x1="667.4" y1="33.43" x2="666.1" y2="33.43" stroke="#9a9a9a" stroke-width="0.6"/>
<line x1="435.2" y1="30.61" x2="436.5" y2="30.61" stroke="#9a9a9a" stroke-width="0.6"/>
<line x1="667.4" y1="30.61" x2="666.1" y2="30.61" stroke="#9a9a9a" stroke-width="0.6"/>
<line x1="435.2" y1="28.18" x2="436.5" y2="28.18" stroke="#9a9a9a" stroke-width="0.6"/>
<line x1="667.4" y1="28.18" x2="666.1" y2="28.18" stroke="#9a9a9a" stroke-width="0.6"/>
<line x1="435.2" y1="26.02" x2="436.5" y2="26.02" stroke="#9a9a9a" stroke-width="0.6"/>
<line x1="667.4" y1="26.02" x2="666.1" y2="26.02" stroke="#9a9a9a" stroke-width="0.6"/>
<line x1="435.2" y1="24.1" x2="437.7" y2="24.1" stroke="#9a9a9a" stroke-width="0.6"/>
<line x1="667.4" y1="24.1" x2="664.9" y2="24.1" stroke="#9a9a9a" stroke-width="0.6"/>
<text x="413" y="29.6" font-size="10.8">10<tspan font-size="7.3" dy="-6.8">0</tspan></text>
<text x="413" y="71.6" font-size="10.8">10<tspan font-size="7.3" dy="-6.8">−1</tspan></text>
<text x="413" y="113.6" font-size="10.8">10<tspan font-size="7.3" dy="-6.8">−2</tspan></text>
<text x="413" y="156.2" font-size="10.8">10<tspan font-size="7.3" dy="-6.8">−3</tspan></text>
<text x="413" y="197.8" font-size="10.8">10<tspan font-size="7.3" dy="-6.8">−4</tspan></text>
<text x="436.2" y="205.6" font-size="10.8" text-anchor="middle">1.0</text>
<text x="509" y="205.6" font-size="10.8" text-anchor="middle">2.0</text>
<text x="581.8" y="205.6" font-size="10.8" text-anchor="middle">3.0</text>
<text x="654.6" y="205.6" font-size="10.8" text-anchor="middle">4.0</text>
<text x="529.7" y="216.7" font-size="12.5">q</text>
<text x="544.2" y="217.8" font-size="10.6" style="font-family:'Liberation Serif',serif">[1/Å]</text>
<text transform="translate(406.2,104.2) rotate(-90)" font-size="12" text-anchor="middle">Normalized Intensity [a.u.]</text>
<text x="470.3" y="46.2" font-size="9.8">data</text>
<text x="556.7" y="49.8" font-size="9.8" fill="#f01010">total</text>
<text x="439.5" y="85.8" font-size="9.8" fill="#25b0ea">liquid</text>
<text x="455" y="115.4" font-size="9.8" fill="#1db83a">Compton</text>
<text x="556.3" y="132.2" font-size="9.6" fill="#f5a020">XRD</text>
<text x="639.6" y="84.7" font-size="9.6" fill="#f020f0">TDS</text>
<text x="394.8" y="226.1" font-size="14.2" font-weight="bold">(c)</text>
<text x="529.7" y="235" font-size="12.5">ρ</text>
<text x="541.3" y="236.6" font-size="15" style="font-family:'Liberation Serif',serif">[</text>
<text x="546.3" y="237" font-size="10.2" style="font-family:'Liberation Serif',serif">1/Å</text>
<text x="561.8" y="229" font-size="6" style="font-family:'Liberation Serif',serif">-3</text>
<text x="568.2" y="236.6" font-size="15" style="font-family:'Liberation Serif',serif">]</text>
<text x="435.6" y="252.4" font-size="11" text-anchor="middle">0.0209</text>
<text x="493.6" y="252.4" font-size="11" text-anchor="middle">0.0224</text>
<text x="551.6" y="252.4" font-size="11" text-anchor="middle">0.0239</text>
<text x="609.6" y="252.4" font-size="11" text-anchor="middle">0.0254</text>
<text x="667.6" y="252.4" font-size="11" text-anchor="middle">0.0269</text>
<text x="436.4" y="423.8" font-size="11" text-anchor="middle">0.070</text>
<text x="494.4" y="423.8" font-size="11" text-anchor="middle">0.075</text>
<text x="552.4" y="423.8" font-size="11" text-anchor="middle">0.080</text>
<text x="610.4" y="423.8" font-size="11" text-anchor="middle">0.085</text>
<text x="668.4" y="423.8" font-size="11" text-anchor="middle">0.090</text>
<text x="431.6" y="273.5" font-size="11" text-anchor="end">20</text>
<text x="431.6" y="308.5" font-size="11" text-anchor="end">15</text>
<text x="431.6" y="344.2" font-size="11" text-anchor="end">10</text>
<text x="431.6" y="379" font-size="11" text-anchor="end">5</text>
<text x="431.6" y="411.6" font-size="11" text-anchor="end">0</text>
<line x1="493.6" y1="257.5" x2="493.6" y2="411.0" stroke="#e4e4e4" stroke-width="0.7"/>
<line x1="551.6" y1="257.5" x2="551.6" y2="411.0" stroke="#e4e4e4" stroke-width="0.7"/>
<line x1="609.6" y1="257.5" x2="609.6" y2="411.0" stroke="#e4e4e4" stroke-width="0.7"/>
<line x1="435.6" y1="374.4" x2="667.5" y2="374.4" stroke="#e4e4e4" stroke-width="0.7"/>
<line x1="435.6" y1="338" x2="667.5" y2="338" stroke="#e4e4e4" stroke-width="0.7"/>
<line x1="435.6" y1="301.6" x2="667.5" y2="301.6" stroke="#e4e4e4" stroke-width="0.7"/>
<line x1="435.6" y1="265.2" x2="667.5" y2="265.2" stroke="#e4e4e4" stroke-width="0.7"/>
<line x1="493.6" y1="411.0" x2="493.6" y2="408.5" stroke="#9a9a9a" stroke-width="0.7"/>
<line x1="493.6" y1="257.5" x2="493.6" y2="260.0" stroke="#9a9a9a" stroke-width="0.7"/>
<line x1="551.6" y1="411.0" x2="551.6" y2="408.5" stroke="#9a9a9a" stroke-width="0.7"/>
<line x1="551.6" y1="257.5" x2="551.6" y2="260.0" stroke="#9a9a9a" stroke-width="0.7"/>
<line x1="609.6" y1="411.0" x2="609.6" y2="408.5" stroke="#9a9a9a" stroke-width="0.7"/>
<line x1="609.6" y1="257.5" x2="609.6" y2="260.0" stroke="#9a9a9a" stroke-width="0.7"/>
<line x1="435.6" y1="374.4" x2="438.1" y2="374.4" stroke="#9a9a9a" stroke-width="0.7"/>
<line x1="667.5" y1="374.4" x2="665.0" y2="374.4" stroke="#9a9a9a" stroke-width="0.7"/>
<line x1="435.6" y1="338" x2="438.1" y2="338" stroke="#9a9a9a" stroke-width="0.7"/>
<line x1="667.5" y1="338" x2="665.0" y2="338" stroke="#9a9a9a" stroke-width="0.7"/>
<line x1="435.6" y1="301.6" x2="438.1" y2="301.6" stroke="#9a9a9a" stroke-width="0.7"/>
<line x1="667.5" y1="301.6" x2="665.0" y2="301.6" stroke="#9a9a9a" stroke-width="0.7"/>
<line x1="435.6" y1="265.2" x2="438.1" y2="265.2" stroke="#9a9a9a" stroke-width="0.7"/>
<line x1="667.5" y1="265.2" x2="665.0" y2="265.2" stroke="#9a9a9a" stroke-width="0.7"/>
<clipPath id="cc"><rect x="435.6" y="257.5" width="231.89999999999998" height="153.5"/></clipPath>
<g clip-path="url(#cc)">
<line x1="469" y1="264.2" x2="643.2" y2="396.6" stroke="#f0141e" stroke-width="1.4"/>
<circle cx="479" cy="269.7" r="3.1" fill="#0f5cf0" stroke="#111" stroke-width="0.7"/>
<circle cx="491.2" cy="290.2" r="3.1" fill="#0f5cf0" stroke="#111" stroke-width="0.7"/>
<circle cx="497.9" cy="296.4" r="3.1" fill="#0f5cf0" stroke="#111" stroke-width="0.7"/>
<circle cx="514.7" cy="285.5" r="3.1" fill="#0f5cf0" stroke="#111" stroke-width="0.7"/>
<circle cx="638.6" cy="381.4" r="3.1" fill="#0f5cf0" stroke="#111" stroke-width="0.7"/>
<circle cx="531.5" cy="310.1" r="3.1" fill="#f07a10" stroke="#111" stroke-width="0.7"/>
<circle cx="575.3" cy="337.8" r="3.1" fill="#f07a10" stroke="#111" stroke-width="0.7"/>
<circle cx="638.6" cy="394.6" r="3.1" fill="#f07a10" stroke="#111" stroke-width="0.7"/>
<circle cx="638.6" cy="410.6" r="3.1" fill="#000" stroke="#111" stroke-width="0.7"/>
</g>
<rect x="435.6" y="257.5" width="231.89999999999998" height="153.5" fill="none" stroke="#9a9a9a" stroke-width="0.9"/>
<rect x="570.3" y="260.9" width="93.2" height="54.7" fill="#fff" stroke="#666" stroke-width="0.8"/>
<circle cx="579.8" cy="269.9" r="3.1" fill="#0f5cf0" stroke="#111" stroke-width="0.7"/>
<circle cx="579.8" cy="282.8" r="3.1" fill="#f07a10" stroke="#111" stroke-width="0.7"/>
<circle cx="579.8" cy="295.2" r="3.1" fill="#000" stroke="#111" stroke-width="0.7"/>
<line x1="574.1" y1="307.7" x2="585.4" y2="307.7" stroke="#f0141e" stroke-width="1.3"/>
<text x="586.1" y="273.1" font-size="8.5">J. Hu et al.</text>
<text x="586.1" y="285.7" font-size="8.5">O. Osychenko et al.</text>
<text x="586.1" y="298.2" font-size="8.5">O. Schnepp (solid)</text>
<text x="588.8" y="310.6" font-size="8.5">LS fit</text>
<text transform="translate(412.2,340.2) rotate(-90)" font-size="11.8" letter-spacing="0.42" text-anchor="middle">Temperature [K]</text>
<text x="527.6" y="437.6" font-size="12.5">ρ</text>
<text x="539.8" y="438" font-size="15" style="font-family:'Liberation Serif',serif">[</text>
<text x="544.1" y="437.9" font-size="11" style="font-family:'Liberation Serif',serif">g/cm</text>
<text x="566.4" y="432.8" font-size="6" style="font-family:'Liberation Serif',serif">3</text>
<text x="570.4" y="438" font-size="15" style="font-family:'Liberation Serif',serif">]</text>
</svg></body></html>
